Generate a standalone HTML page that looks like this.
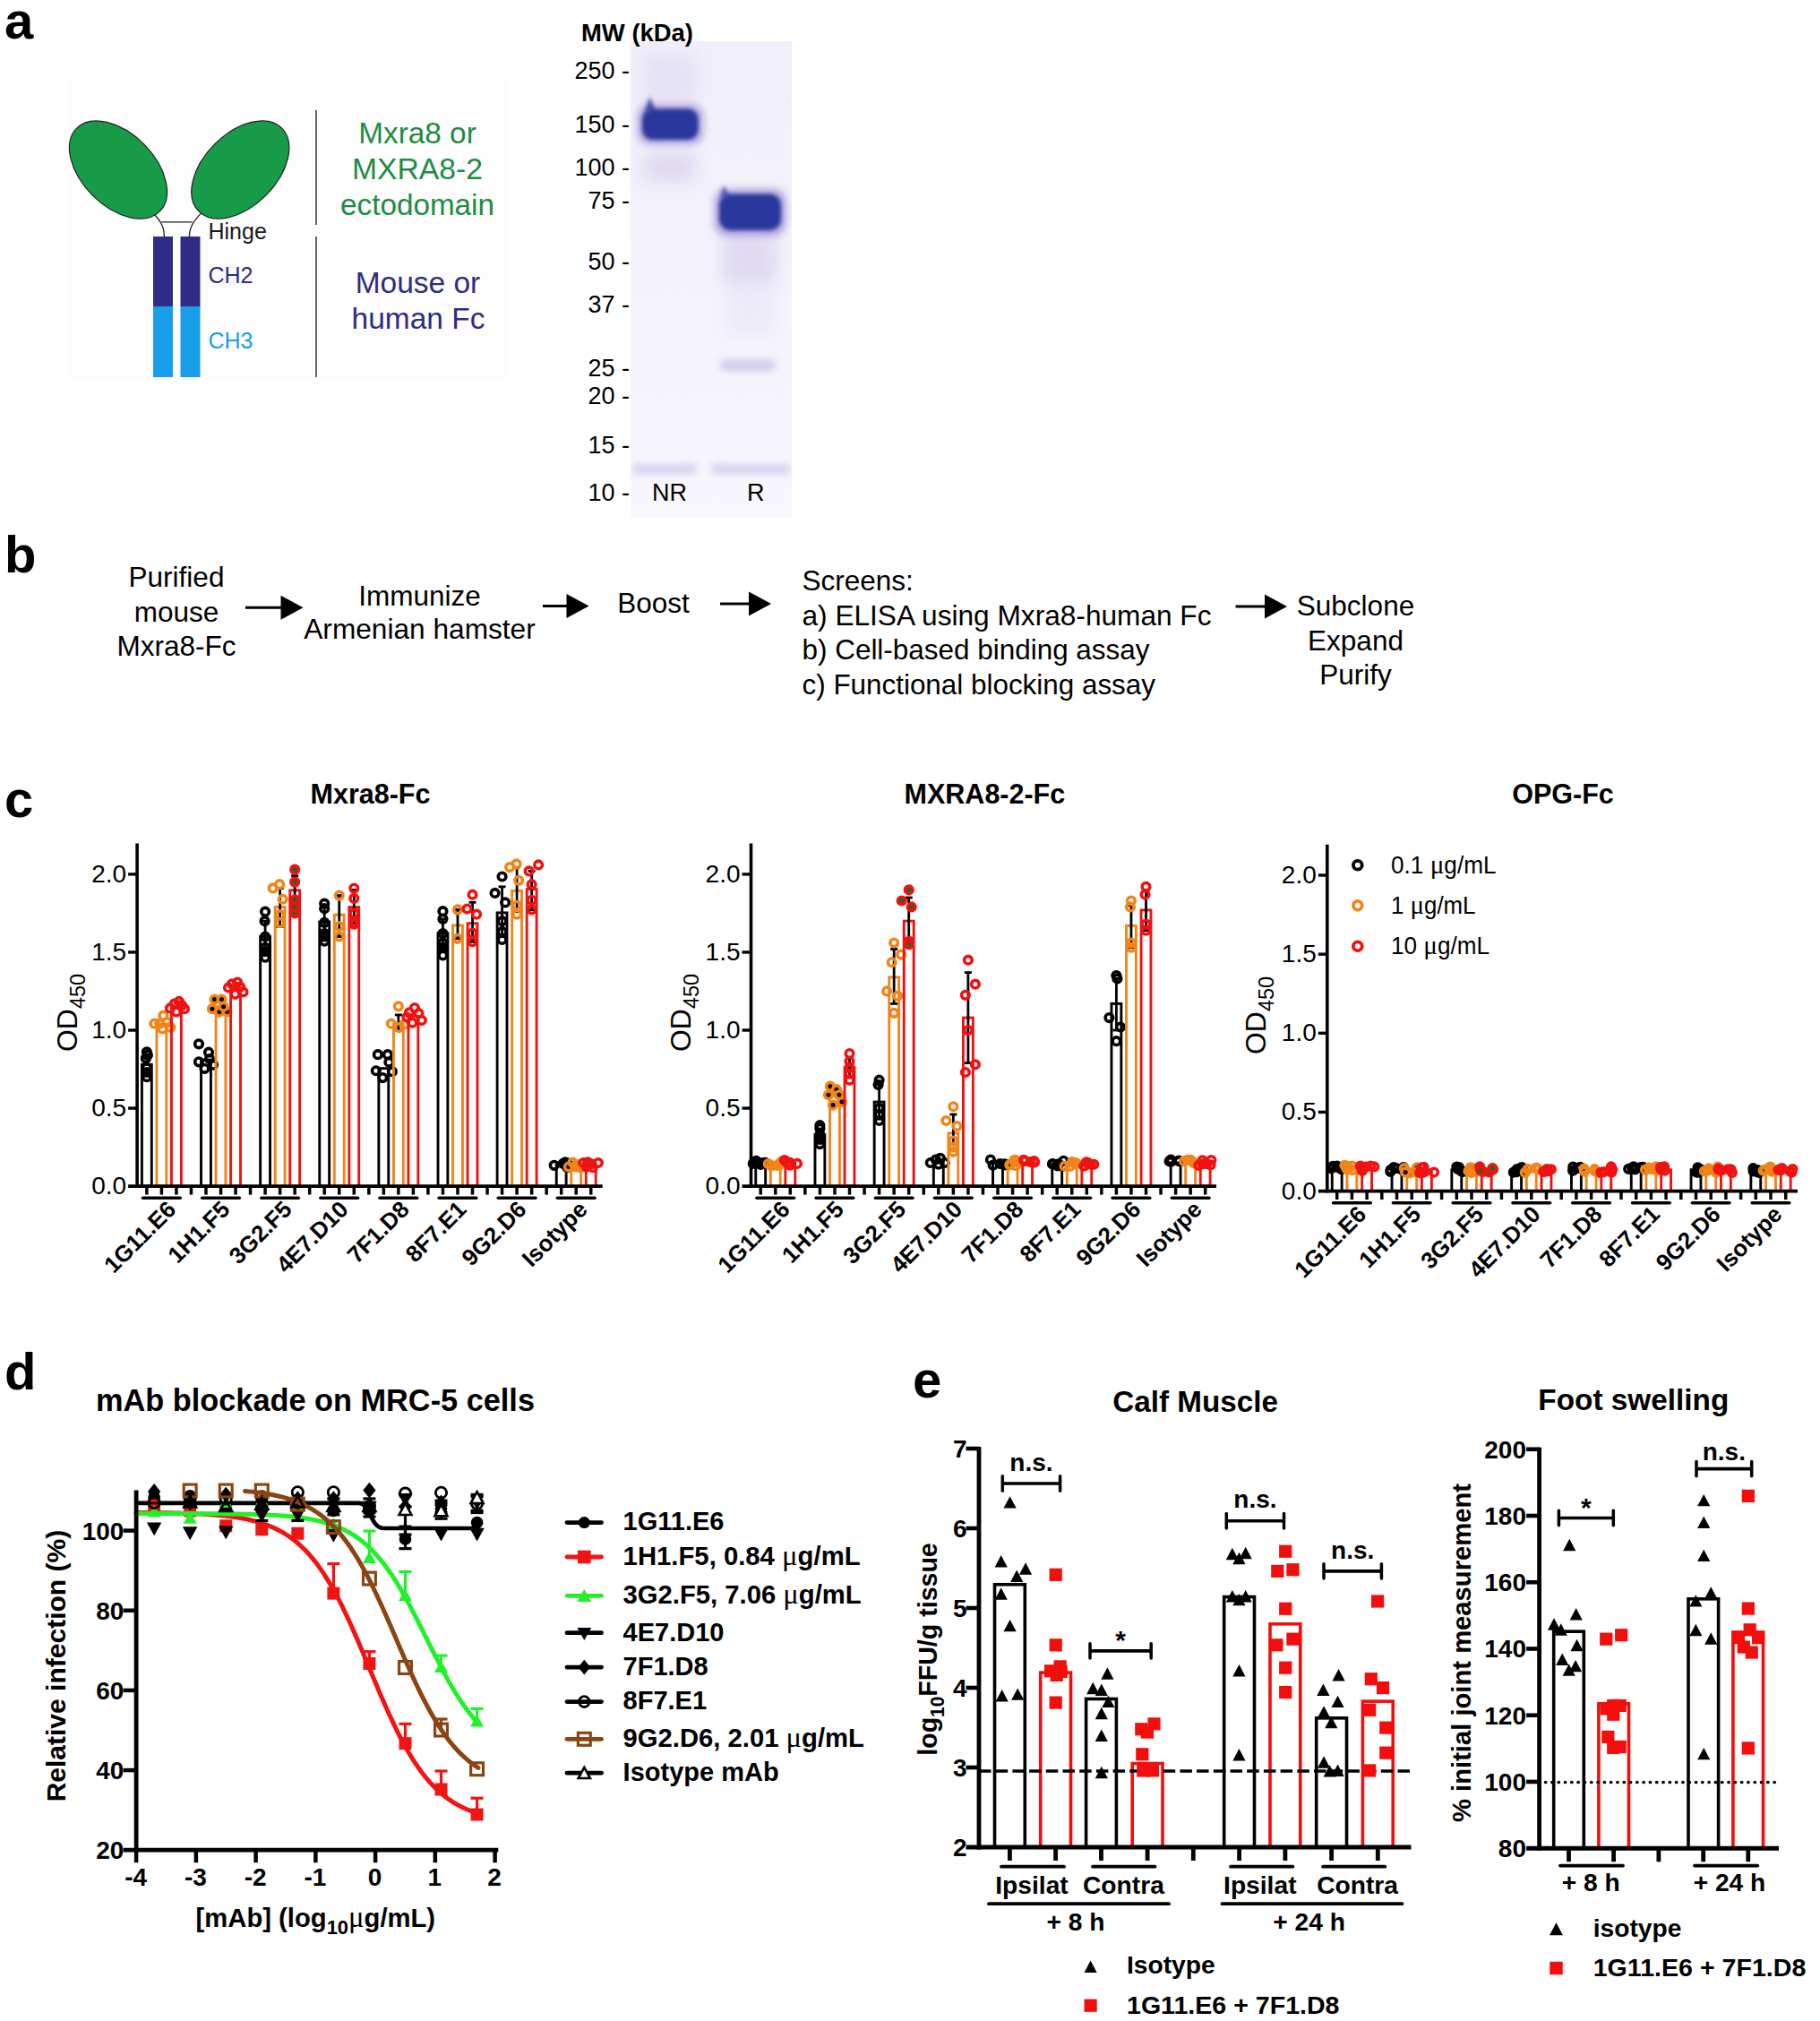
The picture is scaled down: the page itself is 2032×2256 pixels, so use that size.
<!DOCTYPE html>
<html lang="en">
<head>
<meta charset="utf-8">
<title>Mxra8-Fc and anti-Mxra8 mAbs figure</title>
<style>
html,body{margin:0;padding:0;background:#fff;}
body{width:2032px;height:2256px;overflow:hidden;}
svg{display:block;font-family:"Liberation Sans","DejaVu Sans",sans-serif;}
</style>
</head>
<body>
<svg width="2032" height="2256" viewBox="0 0 2032 2256">
<defs>
<filter id="b2" x="-30%" y="-60%" width="160%" height="220%"><feGaussianBlur stdDeviation="2.2"/></filter>
<filter id="b4" x="-30%" y="-80%" width="160%" height="260%"><feGaussianBlur stdDeviation="4.5"/></filter>
<filter id="b9" x="-40%" y="-100%" width="180%" height="300%"><feGaussianBlur stdDeviation="9"/></filter>
<linearGradient id="gelbg" x1="0" y1="0" x2="0" y2="1"><stop offset="0" stop-color="#f1effa"/><stop offset="0.5" stop-color="#f4f3fb"/><stop offset="1" stop-color="#f8f7fd"/></linearGradient>
<clipPath id="gelclip"><rect x="704" y="46" width="180" height="532"/></clipPath>
</defs>
<text x="5" y="43" font-size="58" font-weight="bold">a</text>
<rect x="78" y="87" width="489" height="335.5" fill="#fdfdfd"/>
<path d="M171.5 238.5 C178 245 183.4 252 183.4 264 M225 237.5 C218 245 211.4 252 211.4 264 M180.3 247.9 L214.6 247.9" fill="none" stroke="#222" stroke-width="1.3"/>
<ellipse cx="0" cy="0" rx="65.6" ry="40.5" transform="translate(132,189.5) rotate(45)" fill="#179b48" stroke="#222" stroke-width="1.2"/>
<ellipse cx="0" cy="0" rx="65.6" ry="40.5" transform="translate(268.3,189.5) rotate(-45)" fill="#179b48" stroke="#222" stroke-width="1.2"/>
<rect x="171" y="264" width="22" height="78.5" fill="#2e2c85"/>
<rect x="171" y="342" width="22" height="79" fill="#189de8"/>
<rect x="201.5" y="264" width="22" height="78.5" fill="#2e2c85"/>
<rect x="201.5" y="342" width="22" height="79" fill="#189de8"/>
<text x="232.5" y="266.5" font-size="25" fill="#1a1a1a">Hinge</text>
<text x="232.5" y="315.5" font-size="25" fill="#2e2c85">CH2</text>
<text x="232.5" y="388.5" font-size="25" fill="#189de8">CH3</text>
<line x1="353" y1="123" x2="353" y2="251" stroke-width="1.4" stroke="#222"/>
<line x1="353" y1="264" x2="353" y2="421" stroke-width="1.4" stroke="#222"/>
<text x="466" y="159.5" font-size="32.3" text-anchor="middle" fill="#1f8c43" textLength="131.5" lengthAdjust="spacingAndGlyphs">Mxra8 or</text>
<text x="466" y="199.5" font-size="32.3" text-anchor="middle" fill="#1f8c43" textLength="146" lengthAdjust="spacingAndGlyphs">MXRA8-2</text>
<text x="466" y="239.5" font-size="32.3" text-anchor="middle" fill="#1f8c43" textLength="172" lengthAdjust="spacingAndGlyphs">ectodomain</text>
<text x="466.5" y="326.5" font-size="32.3" text-anchor="middle" fill="#2e2c85" textLength="139.5" lengthAdjust="spacingAndGlyphs">Mouse or</text>
<text x="467" y="366.5" font-size="32.3" text-anchor="middle" fill="#2e2c85" textLength="149" lengthAdjust="spacingAndGlyphs">human Fc</text>
<rect x="704" y="46" width="180" height="532" fill="url(#gelbg)"/>
<g clip-path="url(#gelclip)">
<rect x="716" y="60" width="62" height="60" fill="#b9b4e6" opacity="0.22" filter="url(#b9)"/>
<rect x="719" y="170" width="58" height="34" fill="#b5a6de" opacity="0.3" filter="url(#b9)"/>
<rect x="806" y="258" width="62" height="56" fill="#b5a6de" opacity="0.3" filter="url(#b9)"/>
<rect x="810" y="305" width="54" height="70" fill="#b9b4e6" opacity="0.13" filter="url(#b9)"/>
<rect x="712" y="117" width="73" height="44" rx="13" fill="#7460c2" opacity="0.55" filter="url(#b4)"/>
<polygon points="720,124 725.5,108 732,124" fill="#2b379d" opacity="0.85" filter="url(#b2)"/>
<rect x="717" y="121.5" width="62.5" height="34.5" rx="12" fill="#2b379d" filter="url(#b2)"/>
<rect x="797.5" y="211" width="80" height="52" rx="14" fill="#7460c2" opacity="0.55" filter="url(#b4)"/>
<polygon points="804,220 808,207 815,220" fill="#2b379d" opacity="0.7" filter="url(#b2)"/>
<rect x="803" y="216.5" width="69" height="40.5" rx="13" fill="#2b379d" filter="url(#b2)"/>
<rect x="804" y="402" width="62" height="12" rx="5" fill="#a79bd9" opacity="0.5" filter="url(#b4)"/>
<rect x="706" y="518" width="72" height="11" rx="4" fill="#b3a9df" opacity="0.5" filter="url(#b4)"/>
<rect x="794" y="518" width="88" height="11" rx="4" fill="#b3a9df" opacity="0.5" filter="url(#b4)"/>
</g>
<text x="649" y="46" font-size="27" font-weight="bold" textLength="125" lengthAdjust="spacingAndGlyphs">MW (kDa)</text>
<text x="703" y="88" font-size="27" text-anchor="end">250 -</text>
<text x="703" y="148" font-size="27" text-anchor="end">150 -</text>
<text x="703" y="196" font-size="27" text-anchor="end">100 -</text>
<text x="703" y="232.5" font-size="27" text-anchor="end">75 -</text>
<text x="703" y="301" font-size="27" text-anchor="end">50 -</text>
<text x="703" y="349" font-size="27" text-anchor="end">37 -</text>
<text x="703" y="420" font-size="27" text-anchor="end">25 -</text>
<text x="703" y="450.5" font-size="27" text-anchor="end">20 -</text>
<text x="703" y="506" font-size="27" text-anchor="end">15 -</text>
<text x="703" y="559" font-size="27" text-anchor="end">10 -</text>
<text x="728" y="559" font-size="27">NR</text>
<text x="834" y="559" font-size="27">R</text>
<text x="5" y="639" font-size="58" font-weight="bold">b</text>
<text x="197" y="655" font-size="31.5" text-anchor="middle">Purified</text>
<text x="197" y="694" font-size="31.5" text-anchor="middle">mouse</text>
<text x="197" y="732" font-size="31.5" text-anchor="middle">Mxra8-Fc</text>
<text x="468.5" y="675.5" font-size="31.5" text-anchor="middle">Immunize</text>
<text x="468.5" y="713" font-size="31.5" text-anchor="middle" textLength="258.5" lengthAdjust="spacingAndGlyphs">Armenian hamster</text>
<text x="729.5" y="684" font-size="31.5" text-anchor="middle">Boost</text>
<text x="895.5" y="658.5" font-size="31.5">Screens:</text>
<text x="895.5" y="697.5" font-size="31.5" textLength="457" lengthAdjust="spacingAndGlyphs">a) ELISA using Mxra8-human Fc</text>
<text x="895.5" y="735.5" font-size="31.5" textLength="388" lengthAdjust="spacingAndGlyphs">b) Cell-based binding assay</text>
<text x="895.5" y="774.5" font-size="31.5" textLength="394.5" lengthAdjust="spacingAndGlyphs">c) Functional blocking assay</text>
<text x="1513.5" y="686.5" font-size="31.5" text-anchor="middle">Subclone</text>
<text x="1513.5" y="725.5" font-size="31.5" text-anchor="middle">Expand</text>
<text x="1513.5" y="763.5" font-size="31.5" text-anchor="middle">Purify</text>
<line x1="274" y1="678.3" x2="316.5" y2="678.3" stroke-width="3" stroke="#000"/>
<polygon points="313.5,664.8 338.5,678.3 313.5,691.8" fill="#000"/>
<line x1="606" y1="676.5" x2="635.5" y2="676.5" stroke-width="3" stroke="#000"/>
<polygon points="632.5,663 657.5,676.5 632.5,690" fill="#000"/>
<line x1="804" y1="674" x2="839" y2="674" stroke-width="3" stroke="#000"/>
<polygon points="836,660.5 861,674 836,687.5" fill="#000"/>
<line x1="1379.5" y1="677" x2="1415" y2="677" stroke-width="3" stroke="#000"/>
<polygon points="1412,663.5 1437,677 1412,690.5" fill="#000"/>
<text x="5" y="912" font-size="58" font-weight="bold">c</text>
<rect x="158.4" y="1188.3" width="10.9" height="135.8" fill="none" stroke="#000" stroke-width="2.9"/>
<circle cx="163.85" cy="1174.37" r="4.3" fill="none" stroke="#000" stroke-width="3.6"/>
<circle cx="164.85" cy="1177.86" r="4.3" fill="none" stroke="#000" stroke-width="3.6"/>
<circle cx="162.85" cy="1181.34" r="4.3" fill="none" stroke="#000" stroke-width="3.6"/>
<circle cx="163.85" cy="1191.78" r="4.3" fill="none" stroke="#000" stroke-width="3.6"/>
<circle cx="163.85" cy="1197.01" r="4.3" fill="none" stroke="#000" stroke-width="3.6"/>
<circle cx="163.85" cy="1202.23" r="4.3" fill="none" stroke="#000" stroke-width="3.6"/>
<rect x="174.93" y="1143.04" width="10.9" height="181.06" fill="none" stroke="#f0861a" stroke-width="2.9"/>
<circle cx="172.38" cy="1142.69" r="4.3" fill="none" stroke="#f0861a" stroke-width="3.6"/>
<circle cx="178.38" cy="1142.69" r="4.3" fill="none" stroke="#f0861a" stroke-width="3.6"/>
<circle cx="182.38" cy="1133.63" r="4.3" fill="none" stroke="#f0861a" stroke-width="3.6"/>
<circle cx="186.38" cy="1141.12" r="4.3" fill="none" stroke="#f0861a" stroke-width="3.6"/>
<circle cx="181.38" cy="1148.43" r="4.3" fill="none" stroke="#f0861a" stroke-width="3.6"/>
<circle cx="190.38" cy="1146.87" r="4.3" fill="none" stroke="#f0861a" stroke-width="3.6"/>
<rect x="191.46" y="1123.88" width="10.9" height="200.21" fill="none" stroke="#f01212" stroke-width="2.9"/>
<circle cx="189.91" cy="1125.45" r="4.3" fill="none" stroke="#f01212" stroke-width="3.6"/>
<circle cx="194.91" cy="1120.4" r="4.3" fill="none" stroke="#f01212" stroke-width="3.6"/>
<circle cx="199.91" cy="1117.97" r="4.3" fill="none" stroke="#f01212" stroke-width="3.6"/>
<circle cx="202.91" cy="1122.14" r="4.3" fill="none" stroke="#f01212" stroke-width="3.6"/>
<circle cx="205.91" cy="1126.15" r="4.3" fill="none" stroke="#f01212" stroke-width="3.6"/>
<circle cx="196.91" cy="1129.46" r="4.3" fill="none" stroke="#f01212" stroke-width="3.6"/>
<rect x="224.52" y="1183.08" width="10.9" height="141.02" fill="none" stroke="#000" stroke-width="2.9"/>
<circle cx="221.97" cy="1165.32" r="4.3" fill="none" stroke="#000" stroke-width="3.6"/>
<circle cx="232.97" cy="1174.72" r="4.3" fill="none" stroke="#000" stroke-width="3.6"/>
<circle cx="233.97" cy="1182.03" r="4.3" fill="none" stroke="#000" stroke-width="3.6"/>
<circle cx="221.97" cy="1185.34" r="4.3" fill="none" stroke="#000" stroke-width="3.6"/>
<circle cx="237.97" cy="1188.65" r="4.3" fill="none" stroke="#000" stroke-width="3.6"/>
<circle cx="228.47" cy="1192.83" r="4.3" fill="none" stroke="#000" stroke-width="3.6"/>
<rect x="241.05" y="1123.88" width="10.9" height="200.21" fill="none" stroke="#f0861a" stroke-width="2.9"/>
<circle cx="239.5" cy="1115.53" r="4.3" fill="#000" stroke="#f0861a" stroke-width="3.6"/>
<circle cx="247.5" cy="1115.53" r="4.3" fill="#000" stroke="#f0861a" stroke-width="3.6"/>
<circle cx="237" cy="1126.15" r="4.3" fill="#000" stroke="#f0861a" stroke-width="3.6"/>
<circle cx="245" cy="1129.46" r="4.3" fill="#000" stroke="#f0861a" stroke-width="3.6"/>
<circle cx="253.5" cy="1129.46" r="4.3" fill="#000" stroke="#f0861a" stroke-width="3.6"/>
<circle cx="249.5" cy="1123.71" r="4.3" fill="#000" stroke="#f0861a" stroke-width="3.6"/>
<rect x="257.58" y="1102.99" width="10.9" height="221.11" fill="none" stroke="#f01212" stroke-width="2.9"/>
<circle cx="255.03" cy="1102.47" r="4.3" fill="none" stroke="#f01212" stroke-width="3.6"/>
<circle cx="259.03" cy="1098.29" r="4.3" fill="none" stroke="#f01212" stroke-width="3.6"/>
<circle cx="265.03" cy="1096.55" r="4.3" fill="none" stroke="#f01212" stroke-width="3.6"/>
<circle cx="268.03" cy="1101.6" r="4.3" fill="none" stroke="#f01212" stroke-width="3.6"/>
<circle cx="271.53" cy="1107.35" r="4.3" fill="none" stroke="#f01212" stroke-width="3.6"/>
<circle cx="262.53" cy="1109.78" r="4.3" fill="none" stroke="#f01212" stroke-width="3.6"/>
<rect x="290.64" y="1045.54" width="10.9" height="278.56" fill="none" stroke="#000" stroke-width="2.9"/>
<line x1="296.09" y1="1062.95" x2="296.09" y2="1028.13" stroke-width="2.8" stroke="#000"/>
<line x1="292.09" y1="1028.13" x2="300.09" y2="1028.13" stroke-width="2.8" stroke="#000"/>
<line x1="292.09" y1="1062.95" x2="300.09" y2="1062.95" stroke-width="2.8" stroke="#000"/>
<circle cx="296.09" cy="1017.68" r="4.3" fill="none" stroke="#000" stroke-width="3.6"/>
<circle cx="295.59" cy="1028.13" r="4.3" fill="none" stroke="#000" stroke-width="3.6"/>
<circle cx="296.09" cy="1045.54" r="4.3" fill="none" stroke="#000" stroke-width="3.6"/>
<circle cx="296.09" cy="1057.73" r="4.3" fill="none" stroke="#000" stroke-width="3.6"/>
<circle cx="296.09" cy="1062.08" r="4.3" fill="none" stroke="#000" stroke-width="3.6"/>
<circle cx="296.09" cy="1068.7" r="4.3" fill="none" stroke="#000" stroke-width="3.6"/>
<rect x="307.17" y="1012.46" width="10.9" height="311.64" fill="none" stroke="#f0861a" stroke-width="2.9"/>
<line x1="312.62" y1="1034.22" x2="312.62" y2="991.57" stroke-width="2.8" stroke="#000"/>
<line x1="308.62" y1="991.57" x2="316.62" y2="991.57" stroke-width="2.8" stroke="#000"/>
<line x1="308.62" y1="1034.22" x2="316.62" y2="1034.22" stroke-width="2.8" stroke="#000"/>
<circle cx="304.62" cy="991.39" r="4.3" fill="none" stroke="#f0861a" stroke-width="3.6"/>
<circle cx="312.12" cy="987.22" r="4.3" fill="none" stroke="#f0861a" stroke-width="3.6"/>
<circle cx="315.62" cy="1003.76" r="4.3" fill="none" stroke="#f0861a" stroke-width="3.6"/>
<circle cx="312.62" cy="1030.05" r="4.3" fill="none" stroke="#f0861a" stroke-width="3.6"/>
<circle cx="312.62" cy="1021.17" r="4.3" fill="none" stroke="#f0861a" stroke-width="3.6"/>
<rect x="323.7" y="993.83" width="10.9" height="330.27" fill="none" stroke="#f01212" stroke-width="2.9"/>
<line x1="329.15" y1="1010.72" x2="329.15" y2="977.64" stroke-width="2.8" stroke="#000"/>
<line x1="325.15" y1="977.64" x2="333.15" y2="977.64" stroke-width="2.8" stroke="#000"/>
<line x1="325.15" y1="1010.72" x2="333.15" y2="1010.72" stroke-width="2.8" stroke="#000"/>
<circle cx="329.15" cy="970.68" r="4.3" fill="#1c6b1c" stroke="#f01212" stroke-width="3.6"/>
<circle cx="329.15" cy="984.6" r="4.3" fill="#1c6b1c" stroke="#f01212" stroke-width="3.6"/>
<circle cx="329.15" cy="1004.45" r="4.3" fill="#1c6b1c" stroke="#f01212" stroke-width="3.6"/>
<circle cx="329.15" cy="1019.42" r="4.3" fill="#1c6b1c" stroke="#f01212" stroke-width="3.6"/>
<circle cx="329.15" cy="1012.46" r="4.3" fill="#1c6b1c" stroke="#f01212" stroke-width="3.6"/>
<rect x="356.76" y="1029.17" width="10.9" height="294.93" fill="none" stroke="#000" stroke-width="2.9"/>
<line x1="362.21" y1="1045.54" x2="362.21" y2="1012.46" stroke-width="2.8" stroke="#000"/>
<line x1="358.21" y1="1012.46" x2="366.21" y2="1012.46" stroke-width="2.8" stroke="#000"/>
<line x1="358.21" y1="1045.54" x2="366.21" y2="1045.54" stroke-width="2.8" stroke="#000"/>
<circle cx="362.21" cy="1008.63" r="4.3" fill="none" stroke="#000" stroke-width="3.6"/>
<circle cx="362.21" cy="1014.2" r="4.3" fill="none" stroke="#000" stroke-width="3.6"/>
<circle cx="362.21" cy="1029.87" r="4.3" fill="none" stroke="#000" stroke-width="3.6"/>
<circle cx="362.21" cy="1042.06" r="4.3" fill="none" stroke="#000" stroke-width="3.6"/>
<circle cx="362.21" cy="1050.76" r="4.3" fill="none" stroke="#000" stroke-width="3.6"/>
<circle cx="362.21" cy="1045.54" r="4.3" fill="none" stroke="#000" stroke-width="3.6"/>
<rect x="373.29" y="1021.17" width="10.9" height="302.93" fill="none" stroke="#f0861a" stroke-width="2.9"/>
<line x1="378.74" y1="1045.54" x2="378.74" y2="999.58" stroke-width="2.8" stroke="#000"/>
<line x1="374.74" y1="999.58" x2="382.74" y2="999.58" stroke-width="2.8" stroke="#000"/>
<line x1="374.74" y1="1045.54" x2="382.74" y2="1045.54" stroke-width="2.8" stroke="#000"/>
<circle cx="378.74" cy="999.58" r="4.3" fill="none" stroke="#f0861a" stroke-width="3.6"/>
<circle cx="378.74" cy="1034.05" r="4.3" fill="none" stroke="#f0861a" stroke-width="3.6"/>
<circle cx="378.74" cy="1045.54" r="4.3" fill="none" stroke="#f0861a" stroke-width="3.6"/>
<rect x="389.82" y="1012.64" width="10.9" height="311.46" fill="none" stroke="#f01212" stroke-width="2.9"/>
<line x1="395.27" y1="1031.61" x2="395.27" y2="993.31" stroke-width="2.8" stroke="#000"/>
<line x1="391.27" y1="993.31" x2="399.27" y2="993.31" stroke-width="2.8" stroke="#000"/>
<line x1="391.27" y1="1031.61" x2="399.27" y2="1031.61" stroke-width="2.8" stroke="#000"/>
<circle cx="395.27" cy="991.57" r="4.3" fill="none" stroke="#f01212" stroke-width="3.6"/>
<circle cx="395.27" cy="1002.89" r="4.3" fill="none" stroke="#f01212" stroke-width="3.6"/>
<circle cx="395.27" cy="1019.42" r="4.3" fill="none" stroke="#f01212" stroke-width="3.6"/>
<circle cx="395.27" cy="1031.61" r="4.3" fill="none" stroke="#f01212" stroke-width="3.6"/>
<circle cx="395.27" cy="1028.13" r="4.3" fill="none" stroke="#f01212" stroke-width="3.6"/>
<rect x="422.88" y="1192.65" width="10.9" height="131.45" fill="none" stroke="#000" stroke-width="2.9"/>
<circle cx="421.83" cy="1177.16" r="4.3" fill="none" stroke="#000" stroke-width="3.6"/>
<circle cx="432.83" cy="1177.16" r="4.3" fill="none" stroke="#000" stroke-width="3.6"/>
<circle cx="434.33" cy="1185.69" r="4.3" fill="none" stroke="#000" stroke-width="3.6"/>
<circle cx="419.83" cy="1195.27" r="4.3" fill="none" stroke="#000" stroke-width="3.6"/>
<circle cx="437.83" cy="1196.14" r="4.3" fill="none" stroke="#000" stroke-width="3.6"/>
<circle cx="427.33" cy="1203.1" r="4.3" fill="none" stroke="#000" stroke-width="3.6"/>
<rect x="439.41" y="1143.04" width="10.9" height="181.06" fill="none" stroke="#f0861a" stroke-width="2.9"/>
<line x1="444.86" y1="1150" x2="444.86" y2="1132.94" stroke-width="2.8" stroke="#000"/>
<line x1="440.86" y1="1132.94" x2="448.86" y2="1132.94" stroke-width="2.8" stroke="#000"/>
<line x1="440.86" y1="1150" x2="448.86" y2="1150" stroke-width="2.8" stroke="#000"/>
<circle cx="444.86" cy="1123.36" r="4.3" fill="none" stroke="#f0861a" stroke-width="3.6"/>
<circle cx="436.86" cy="1142.69" r="4.3" fill="none" stroke="#f0861a" stroke-width="3.6"/>
<circle cx="445.36" cy="1147.04" r="4.3" fill="none" stroke="#f0861a" stroke-width="3.6"/>
<circle cx="451.36" cy="1143.56" r="4.3" fill="none" stroke="#f0861a" stroke-width="3.6"/>
<rect x="455.94" y="1134.33" width="10.9" height="189.77" fill="none" stroke="#f01212" stroke-width="2.9"/>
<circle cx="456.89" cy="1130.33" r="4.3" fill="none" stroke="#f01212" stroke-width="3.6"/>
<circle cx="462.89" cy="1125.1" r="4.3" fill="none" stroke="#f01212" stroke-width="3.6"/>
<circle cx="467.39" cy="1131.2" r="4.3" fill="none" stroke="#f01212" stroke-width="3.6"/>
<circle cx="470.89" cy="1139.03" r="4.3" fill="none" stroke="#f01212" stroke-width="3.6"/>
<circle cx="460.39" cy="1141.64" r="4.3" fill="none" stroke="#f01212" stroke-width="3.6"/>
<circle cx="454.39" cy="1135.55" r="4.3" fill="none" stroke="#f01212" stroke-width="3.6"/>
<rect x="489" y="1041.71" width="10.9" height="282.39" fill="none" stroke="#000" stroke-width="2.9"/>
<line x1="494.45" y1="1059.47" x2="494.45" y2="1025.87" stroke-width="2.8" stroke="#000"/>
<line x1="490.45" y1="1025.87" x2="498.45" y2="1025.87" stroke-width="2.8" stroke="#000"/>
<line x1="490.45" y1="1059.47" x2="498.45" y2="1059.47" stroke-width="2.8" stroke="#000"/>
<circle cx="494.45" cy="1017.16" r="4.3" fill="none" stroke="#000" stroke-width="3.6"/>
<circle cx="494.45" cy="1025.87" r="4.3" fill="none" stroke="#000" stroke-width="3.6"/>
<circle cx="494.45" cy="1042.06" r="4.3" fill="none" stroke="#000" stroke-width="3.6"/>
<circle cx="494.45" cy="1057.73" r="4.3" fill="none" stroke="#000" stroke-width="3.6"/>
<circle cx="494.45" cy="1066.43" r="4.3" fill="none" stroke="#000" stroke-width="3.6"/>
<circle cx="494.45" cy="1052.5" r="4.3" fill="none" stroke="#000" stroke-width="3.6"/>
<rect x="505.53" y="1033" width="10.9" height="291.1" fill="none" stroke="#f0861a" stroke-width="2.9"/>
<line x1="510.98" y1="1047.8" x2="510.98" y2="1015.42" stroke-width="2.8" stroke="#000"/>
<line x1="506.98" y1="1015.42" x2="514.98" y2="1015.42" stroke-width="2.8" stroke="#000"/>
<line x1="506.98" y1="1047.8" x2="514.98" y2="1047.8" stroke-width="2.8" stroke="#000"/>
<circle cx="510.98" cy="1015.42" r="4.3" fill="none" stroke="#f0861a" stroke-width="3.6"/>
<circle cx="510.98" cy="1047.8" r="4.3" fill="none" stroke="#f0861a" stroke-width="3.6"/>
<rect x="522.06" y="1030.74" width="10.9" height="293.36" fill="none" stroke="#f01212" stroke-width="2.9"/>
<line x1="527.51" y1="1051.29" x2="527.51" y2="1007.24" stroke-width="2.8" stroke="#000"/>
<line x1="523.51" y1="1007.24" x2="531.51" y2="1007.24" stroke-width="2.8" stroke="#000"/>
<line x1="523.51" y1="1051.29" x2="531.51" y2="1051.29" stroke-width="2.8" stroke="#000"/>
<circle cx="527.51" cy="998.71" r="4.3" fill="none" stroke="#f01212" stroke-width="3.6"/>
<circle cx="521.51" cy="1014.55" r="4.3" fill="none" stroke="#f01212" stroke-width="3.6"/>
<circle cx="532.01" cy="1020.64" r="4.3" fill="none" stroke="#f01212" stroke-width="3.6"/>
<circle cx="527.51" cy="1041.71" r="4.3" fill="none" stroke="#f01212" stroke-width="3.6"/>
<circle cx="527.51" cy="1051.29" r="4.3" fill="none" stroke="#f01212" stroke-width="3.6"/>
<rect x="555.12" y="1018.9" width="10.9" height="305.2" fill="none" stroke="#000" stroke-width="2.9"/>
<line x1="560.57" y1="1045.54" x2="560.57" y2="989.83" stroke-width="2.8" stroke="#000"/>
<line x1="556.57" y1="989.83" x2="564.57" y2="989.83" stroke-width="2.8" stroke="#000"/>
<line x1="556.57" y1="1045.54" x2="564.57" y2="1045.54" stroke-width="2.8" stroke="#000"/>
<circle cx="560.57" cy="978.51" r="4.3" fill="none" stroke="#000" stroke-width="3.6"/>
<circle cx="552.57" cy="996.97" r="4.3" fill="none" stroke="#000" stroke-width="3.6"/>
<circle cx="564.07" cy="1007.41" r="4.3" fill="none" stroke="#000" stroke-width="3.6"/>
<circle cx="560.57" cy="1039.97" r="4.3" fill="none" stroke="#000" stroke-width="3.6"/>
<circle cx="560.57" cy="1049.02" r="4.3" fill="none" stroke="#000" stroke-width="3.6"/>
<circle cx="560.57" cy="1028.13" r="4.3" fill="none" stroke="#000" stroke-width="3.6"/>
<rect x="571.65" y="994.35" width="10.9" height="329.75" fill="none" stroke="#f0861a" stroke-width="2.9"/>
<line x1="577.1" y1="1017.68" x2="577.1" y2="968.07" stroke-width="2.8" stroke="#000"/>
<line x1="573.1" y1="968.07" x2="581.1" y2="968.07" stroke-width="2.8" stroke="#000"/>
<line x1="573.1" y1="1017.68" x2="581.1" y2="1017.68" stroke-width="2.8" stroke="#000"/>
<circle cx="569.1" cy="968.07" r="4.3" fill="none" stroke="#f0861a" stroke-width="3.6"/>
<circle cx="576.6" cy="964.41" r="4.3" fill="none" stroke="#f0861a" stroke-width="3.6"/>
<circle cx="579.1" cy="982.86" r="4.3" fill="none" stroke="#f0861a" stroke-width="3.6"/>
<circle cx="577.1" cy="1010.72" r="4.3" fill="none" stroke="#f0861a" stroke-width="3.6"/>
<circle cx="577.1" cy="1020.64" r="4.3" fill="none" stroke="#f0861a" stroke-width="3.6"/>
<rect x="588.18" y="992.61" width="10.9" height="331.49" fill="none" stroke="#f01212" stroke-width="2.9"/>
<line x1="593.63" y1="1015.94" x2="593.63" y2="972.42" stroke-width="2.8" stroke="#000"/>
<line x1="589.63" y1="972.42" x2="597.63" y2="972.42" stroke-width="2.8" stroke="#000"/>
<line x1="589.63" y1="1015.94" x2="597.63" y2="1015.94" stroke-width="2.8" stroke="#000"/>
<circle cx="601.13" cy="965.45" r="4.3" fill="none" stroke="#f01212" stroke-width="3.6"/>
<circle cx="590.63" cy="972.42" r="4.3" fill="none" stroke="#f01212" stroke-width="3.6"/>
<circle cx="593.63" cy="987.22" r="4.3" fill="none" stroke="#f01212" stroke-width="3.6"/>
<circle cx="593.63" cy="1004.8" r="4.3" fill="none" stroke="#f01212" stroke-width="3.6"/>
<circle cx="593.63" cy="1015.42" r="4.3" fill="none" stroke="#f01212" stroke-width="3.6"/>
<rect x="621.24" y="1300.6" width="10.9" height="23.5" fill="none" stroke="#000" stroke-width="2.9"/>
<circle cx="628.78" cy="1298.91" r="4.3" fill="none" stroke="#000" stroke-width="3.6"/>
<circle cx="631.71" cy="1297.52" r="4.3" fill="none" stroke="#000" stroke-width="3.6"/>
<circle cx="630.77" cy="1297.66" r="4.3" fill="none" stroke="#000" stroke-width="3.6"/>
<circle cx="618.68" cy="1300.84" r="4.3" fill="none" stroke="#000" stroke-width="3.6"/>
<circle cx="634.23" cy="1299.56" r="4.3" fill="none" stroke="#000" stroke-width="3.6"/>
<circle cx="633.51" cy="1303.29" r="4.3" fill="none" stroke="#000" stroke-width="3.6"/>
<rect x="637.77" y="1300.6" width="10.9" height="23.5" fill="none" stroke="#f0861a" stroke-width="2.9"/>
<circle cx="642.69" cy="1302.36" r="4.3" fill="none" stroke="#f0861a" stroke-width="3.6"/>
<circle cx="643.96" cy="1300.08" r="4.3" fill="none" stroke="#f0861a" stroke-width="3.6"/>
<circle cx="634.94" cy="1302.57" r="4.3" fill="none" stroke="#f0861a" stroke-width="3.6"/>
<circle cx="639.47" cy="1297.7" r="4.3" fill="none" stroke="#f0861a" stroke-width="3.6"/>
<circle cx="647.74" cy="1302.97" r="4.3" fill="none" stroke="#f0861a" stroke-width="3.6"/>
<circle cx="648.27" cy="1303.11" r="4.3" fill="none" stroke="#f0861a" stroke-width="3.6"/>
<rect x="654.3" y="1300.6" width="10.9" height="23.5" fill="none" stroke="#f01212" stroke-width="2.9"/>
<circle cx="661.75" cy="1303.2" r="4.3" fill="none" stroke="#f01212" stroke-width="3.6"/>
<circle cx="651.28" cy="1298.01" r="4.3" fill="none" stroke="#f01212" stroke-width="3.6"/>
<circle cx="654.81" cy="1302.58" r="4.3" fill="none" stroke="#f01212" stroke-width="3.6"/>
<circle cx="667.95" cy="1298" r="4.3" fill="none" stroke="#f01212" stroke-width="3.6"/>
<circle cx="656.17" cy="1297.38" r="4.3" fill="none" stroke="#f01212" stroke-width="3.6"/>
<circle cx="660.42" cy="1299.36" r="4.3" fill="none" stroke="#f01212" stroke-width="3.6"/>
<line x1="153.1" y1="941.5" x2="153.1" y2="1325.9" stroke-width="3.6" stroke="#000"/>
<line x1="143.1" y1="1324.1" x2="672.7" y2="1324.1" stroke-width="3.6" stroke="#000"/>
<text x="141.2" y="1333.1" font-size="28" text-anchor="end">0.0</text>
<line x1="143.1" y1="1237.05" x2="153.1" y2="1237.05" stroke-width="3.4" stroke="#000"/>
<text x="141.2" y="1246.05" font-size="28" text-anchor="end">0.5</text>
<line x1="143.1" y1="1150" x2="153.1" y2="1150" stroke-width="3.4" stroke="#000"/>
<text x="141.2" y="1159" font-size="28" text-anchor="end">1.0</text>
<line x1="143.1" y1="1062.95" x2="153.1" y2="1062.95" stroke-width="3.4" stroke="#000"/>
<text x="141.2" y="1071.95" font-size="28" text-anchor="end">1.5</text>
<line x1="143.1" y1="975.9" x2="153.1" y2="975.9" stroke-width="3.4" stroke="#000"/>
<text x="141.2" y="984.9" font-size="28" text-anchor="end">2.0</text>
<line x1="163.85" y1="1324.1" x2="163.85" y2="1333.6" stroke-width="3.5" stroke="#000"/>
<line x1="180.38" y1="1324.1" x2="180.38" y2="1333.6" stroke-width="3.5" stroke="#000"/>
<line x1="196.91" y1="1324.1" x2="196.91" y2="1333.6" stroke-width="3.5" stroke="#000"/>
<line x1="213.44" y1="1324.1" x2="213.44" y2="1333.6" stroke-width="3.5" stroke="#000"/>
<line x1="229.97" y1="1324.1" x2="229.97" y2="1333.6" stroke-width="3.5" stroke="#000"/>
<line x1="246.5" y1="1324.1" x2="246.5" y2="1333.6" stroke-width="3.5" stroke="#000"/>
<line x1="263.03" y1="1324.1" x2="263.03" y2="1333.6" stroke-width="3.5" stroke="#000"/>
<line x1="279.56" y1="1324.1" x2="279.56" y2="1333.6" stroke-width="3.5" stroke="#000"/>
<line x1="296.09" y1="1324.1" x2="296.09" y2="1333.6" stroke-width="3.5" stroke="#000"/>
<line x1="312.62" y1="1324.1" x2="312.62" y2="1333.6" stroke-width="3.5" stroke="#000"/>
<line x1="329.15" y1="1324.1" x2="329.15" y2="1333.6" stroke-width="3.5" stroke="#000"/>
<line x1="345.68" y1="1324.1" x2="345.68" y2="1333.6" stroke-width="3.5" stroke="#000"/>
<line x1="362.21" y1="1324.1" x2="362.21" y2="1333.6" stroke-width="3.5" stroke="#000"/>
<line x1="378.74" y1="1324.1" x2="378.74" y2="1333.6" stroke-width="3.5" stroke="#000"/>
<line x1="395.27" y1="1324.1" x2="395.27" y2="1333.6" stroke-width="3.5" stroke="#000"/>
<line x1="411.8" y1="1324.1" x2="411.8" y2="1333.6" stroke-width="3.5" stroke="#000"/>
<line x1="428.33" y1="1324.1" x2="428.33" y2="1333.6" stroke-width="3.5" stroke="#000"/>
<line x1="444.86" y1="1324.1" x2="444.86" y2="1333.6" stroke-width="3.5" stroke="#000"/>
<line x1="461.39" y1="1324.1" x2="461.39" y2="1333.6" stroke-width="3.5" stroke="#000"/>
<line x1="477.92" y1="1324.1" x2="477.92" y2="1333.6" stroke-width="3.5" stroke="#000"/>
<line x1="494.45" y1="1324.1" x2="494.45" y2="1333.6" stroke-width="3.5" stroke="#000"/>
<line x1="510.98" y1="1324.1" x2="510.98" y2="1333.6" stroke-width="3.5" stroke="#000"/>
<line x1="527.51" y1="1324.1" x2="527.51" y2="1333.6" stroke-width="3.5" stroke="#000"/>
<line x1="544.04" y1="1324.1" x2="544.04" y2="1333.6" stroke-width="3.5" stroke="#000"/>
<line x1="560.57" y1="1324.1" x2="560.57" y2="1333.6" stroke-width="3.5" stroke="#000"/>
<line x1="577.1" y1="1324.1" x2="577.1" y2="1333.6" stroke-width="3.5" stroke="#000"/>
<line x1="593.63" y1="1324.1" x2="593.63" y2="1333.6" stroke-width="3.5" stroke="#000"/>
<line x1="610.16" y1="1324.1" x2="610.16" y2="1333.6" stroke-width="3.5" stroke="#000"/>
<line x1="626.69" y1="1324.1" x2="626.69" y2="1333.6" stroke-width="3.5" stroke="#000"/>
<line x1="643.22" y1="1324.1" x2="643.22" y2="1333.6" stroke-width="3.5" stroke="#000"/>
<line x1="659.75" y1="1324.1" x2="659.75" y2="1333.6" stroke-width="3.5" stroke="#000"/>
<line x1="159.58" y1="1337.3" x2="201.18" y2="1337.3" stroke-width="3.6" stroke="#000" stroke-linecap="round"/>
<text transform="translate(197.98,1351.6) rotate(-45)" font-size="25.8" font-weight="bold" text-anchor="end">1G11.E6</text>
<line x1="225.7" y1="1337.3" x2="267.3" y2="1337.3" stroke-width="3.6" stroke="#000" stroke-linecap="round"/>
<text transform="translate(258.2,1351.6) rotate(-45)" font-size="25.8" font-weight="bold" text-anchor="end">1H1.F5</text>
<line x1="291.82" y1="1337.3" x2="333.42" y2="1337.3" stroke-width="3.6" stroke="#000" stroke-linecap="round"/>
<text transform="translate(327.42,1351.6) rotate(-45)" font-size="25.8" font-weight="bold" text-anchor="end">3G2.F5</text>
<line x1="357.94" y1="1337.3" x2="399.54" y2="1337.3" stroke-width="3.6" stroke="#000" stroke-linecap="round"/>
<text transform="translate(390.34,1351.6) rotate(-45)" font-size="25.8" font-weight="bold" text-anchor="end">4E7.D10</text>
<line x1="424.06" y1="1337.3" x2="465.66" y2="1337.3" stroke-width="3.6" stroke="#000" stroke-linecap="round"/>
<text transform="translate(458.36,1351.6) rotate(-45)" font-size="25.8" font-weight="bold" text-anchor="end">7F1.D8</text>
<line x1="490.18" y1="1337.3" x2="531.78" y2="1337.3" stroke-width="3.6" stroke="#000" stroke-linecap="round"/>
<text transform="translate(522.28,1351.6) rotate(-45)" font-size="25.8" font-weight="bold" text-anchor="end">8F7.E1</text>
<line x1="556.3" y1="1337.3" x2="597.9" y2="1337.3" stroke-width="3.6" stroke="#000" stroke-linecap="round"/>
<text transform="translate(589.2,1351.6) rotate(-45)" font-size="25.8" font-weight="bold" text-anchor="end">9G2.D6</text>
<line x1="622.42" y1="1337.3" x2="664.02" y2="1337.3" stroke-width="3.6" stroke="#000" stroke-linecap="round"/>
<text transform="translate(657.42,1351.6) rotate(-45)" font-size="25.8" font-weight="bold" text-anchor="end">Isotype</text>
<text x="413.5" y="896.5" font-size="30.5" font-weight="bold" text-anchor="middle">Mxra8-Fc</text>
<text transform="translate(85.8,1130.5) rotate(-90)" font-size="32" text-anchor="middle">OD<tspan font-size="23.5" dy="9">450</tspan></text>
<rect x="843.75" y="1297.98" width="10.9" height="26.12" fill="none" stroke="#000" stroke-width="2.9"/>
<circle cx="843.5" cy="1296.66" r="4.3" fill="none" stroke="#000" stroke-width="3.6"/>
<circle cx="851.49" cy="1298.13" r="4.3" fill="none" stroke="#000" stroke-width="3.6"/>
<circle cx="844.37" cy="1295.95" r="4.3" fill="none" stroke="#000" stroke-width="3.6"/>
<circle cx="854.43" cy="1297.9" r="4.3" fill="none" stroke="#000" stroke-width="3.6"/>
<circle cx="849.29" cy="1299.82" r="4.3" fill="none" stroke="#000" stroke-width="3.6"/>
<circle cx="840.75" cy="1298.88" r="4.3" fill="none" stroke="#000" stroke-width="3.6"/>
<rect x="860.3" y="1297.98" width="10.9" height="26.12" fill="none" stroke="#f0861a" stroke-width="2.9"/>
<circle cx="867.2" cy="1300.98" r="4.3" fill="none" stroke="#f0861a" stroke-width="3.6"/>
<circle cx="870.74" cy="1299.85" r="4.3" fill="none" stroke="#f0861a" stroke-width="3.6"/>
<circle cx="861.21" cy="1301.17" r="4.3" fill="none" stroke="#f0861a" stroke-width="3.6"/>
<circle cx="874.21" cy="1296.32" r="4.3" fill="none" stroke="#f0861a" stroke-width="3.6"/>
<circle cx="872.13" cy="1297.18" r="4.3" fill="none" stroke="#f0861a" stroke-width="3.6"/>
<circle cx="857.83" cy="1299.18" r="4.3" fill="none" stroke="#f0861a" stroke-width="3.6"/>
<rect x="876.85" y="1297.98" width="10.9" height="26.12" fill="none" stroke="#f01212" stroke-width="2.9"/>
<circle cx="882.26" cy="1300.66" r="4.3" fill="none" stroke="#f01212" stroke-width="3.6"/>
<circle cx="889.98" cy="1298.9" r="4.3" fill="none" stroke="#f01212" stroke-width="3.6"/>
<circle cx="876.43" cy="1295.77" r="4.3" fill="none" stroke="#f01212" stroke-width="3.6"/>
<circle cx="875.92" cy="1295" r="4.3" fill="none" stroke="#f01212" stroke-width="3.6"/>
<circle cx="881.5" cy="1297.62" r="4.3" fill="none" stroke="#f01212" stroke-width="3.6"/>
<circle cx="879.63" cy="1298.09" r="4.3" fill="none" stroke="#f01212" stroke-width="3.6"/>
<rect x="909.95" y="1266.65" width="10.9" height="57.45" fill="none" stroke="#000" stroke-width="2.9"/>
<circle cx="915.4" cy="1256.2" r="4.3" fill="none" stroke="#000" stroke-width="3.6"/>
<circle cx="915.4" cy="1259.68" r="4.3" fill="none" stroke="#000" stroke-width="3.6"/>
<circle cx="915.4" cy="1266.65" r="4.3" fill="none" stroke="#000" stroke-width="3.6"/>
<circle cx="915.4" cy="1271.87" r="4.3" fill="none" stroke="#000" stroke-width="3.6"/>
<circle cx="915.4" cy="1277.09" r="4.3" fill="none" stroke="#000" stroke-width="3.6"/>
<rect x="926.5" y="1223.12" width="10.9" height="100.98" fill="none" stroke="#f0861a" stroke-width="2.9"/>
<circle cx="926.95" cy="1212.68" r="4.3" fill="#000" stroke="#f0861a" stroke-width="3.6"/>
<circle cx="933.95" cy="1216.16" r="4.3" fill="#000" stroke="#f0861a" stroke-width="3.6"/>
<circle cx="924.95" cy="1222.25" r="4.3" fill="#000" stroke="#f0861a" stroke-width="3.6"/>
<circle cx="936.95" cy="1222.25" r="4.3" fill="#000" stroke="#f0861a" stroke-width="3.6"/>
<circle cx="929.95" cy="1233.57" r="4.3" fill="#000" stroke="#f0861a" stroke-width="3.6"/>
<circle cx="939.95" cy="1230.09" r="4.3" fill="#000" stroke="#f0861a" stroke-width="3.6"/>
<rect x="943.05" y="1191.78" width="10.9" height="132.32" fill="none" stroke="#f01212" stroke-width="2.9"/>
<line x1="948.5" y1="1202.23" x2="948.5" y2="1181.34" stroke-width="2.8" stroke="#000"/>
<line x1="944.5" y1="1181.34" x2="952.5" y2="1181.34" stroke-width="2.8" stroke="#000"/>
<line x1="944.5" y1="1202.23" x2="952.5" y2="1202.23" stroke-width="2.8" stroke="#000"/>
<circle cx="948.5" cy="1176.12" r="4.3" fill="none" stroke="#f01212" stroke-width="3.6"/>
<circle cx="948.5" cy="1184.82" r="4.3" fill="none" stroke="#f01212" stroke-width="3.6"/>
<circle cx="948.5" cy="1191.78" r="4.3" fill="none" stroke="#f01212" stroke-width="3.6"/>
<circle cx="948.5" cy="1198.75" r="4.3" fill="none" stroke="#f01212" stroke-width="3.6"/>
<circle cx="948.5" cy="1205.71" r="4.3" fill="none" stroke="#f01212" stroke-width="3.6"/>
<rect x="976.15" y="1230.09" width="10.9" height="94.01" fill="none" stroke="#000" stroke-width="2.9"/>
<line x1="981.6" y1="1249.24" x2="981.6" y2="1210.93" stroke-width="2.8" stroke="#000"/>
<line x1="977.6" y1="1210.93" x2="985.6" y2="1210.93" stroke-width="2.8" stroke="#000"/>
<line x1="977.6" y1="1249.24" x2="985.6" y2="1249.24" stroke-width="2.8" stroke="#000"/>
<circle cx="981.6" cy="1205.71" r="4.3" fill="none" stroke="#000" stroke-width="3.6"/>
<circle cx="980.6" cy="1210.93" r="4.3" fill="none" stroke="#000" stroke-width="3.6"/>
<circle cx="981.6" cy="1237.05" r="4.3" fill="none" stroke="#000" stroke-width="3.6"/>
<circle cx="981.6" cy="1244.01" r="4.3" fill="none" stroke="#000" stroke-width="3.6"/>
<circle cx="981.6" cy="1250.98" r="4.3" fill="none" stroke="#000" stroke-width="3.6"/>
<rect x="992.7" y="1090.81" width="10.9" height="233.29" fill="none" stroke="#f0861a" stroke-width="2.9"/>
<line x1="998.15" y1="1120.4" x2="998.15" y2="1059.47" stroke-width="2.8" stroke="#000"/>
<line x1="994.15" y1="1059.47" x2="1002.15" y2="1059.47" stroke-width="2.8" stroke="#000"/>
<line x1="994.15" y1="1120.4" x2="1002.15" y2="1120.4" stroke-width="2.8" stroke="#000"/>
<circle cx="998.15" cy="1052.5" r="4.3" fill="none" stroke="#f0861a" stroke-width="3.6"/>
<circle cx="1006.15" cy="1065.56" r="4.3" fill="none" stroke="#f0861a" stroke-width="3.6"/>
<circle cx="995.65" cy="1074.27" r="4.3" fill="none" stroke="#f0861a" stroke-width="3.6"/>
<circle cx="990.15" cy="1106.47" r="4.3" fill="none" stroke="#f0861a" stroke-width="3.6"/>
<circle cx="1002.15" cy="1111.7" r="4.3" fill="none" stroke="#f0861a" stroke-width="3.6"/>
<circle cx="998.15" cy="1130.85" r="4.3" fill="none" stroke="#f0861a" stroke-width="3.6"/>
<rect x="1009.25" y="1028.13" width="10.9" height="295.97" fill="none" stroke="#f01212" stroke-width="2.9"/>
<line x1="1014.7" y1="1052.5" x2="1014.7" y2="1002.01" stroke-width="2.8" stroke="#000"/>
<line x1="1010.7" y1="1002.01" x2="1018.7" y2="1002.01" stroke-width="2.8" stroke="#000"/>
<line x1="1010.7" y1="1052.5" x2="1018.7" y2="1052.5" stroke-width="2.8" stroke="#000"/>
<circle cx="1014.7" cy="993.31" r="4.3" fill="#1c6b1c" stroke="#f01212" stroke-width="3.6"/>
<circle cx="1006.7" cy="1005.5" r="4.3" fill="#1c6b1c" stroke="#f01212" stroke-width="3.6"/>
<circle cx="1017.7" cy="1012.46" r="4.3" fill="#1c6b1c" stroke="#f01212" stroke-width="3.6"/>
<circle cx="1014.7" cy="1050.76" r="4.3" fill="#1c6b1c" stroke="#f01212" stroke-width="3.6"/>
<circle cx="1014.7" cy="1054.24" r="4.3" fill="#1c6b1c" stroke="#f01212" stroke-width="3.6"/>
<rect x="1042.35" y="1296.24" width="10.9" height="27.86" fill="none" stroke="#000" stroke-width="2.9"/>
<circle cx="1038.8" cy="1297.98" r="4.3" fill="none" stroke="#000" stroke-width="3.6"/>
<circle cx="1044.8" cy="1294.5" r="4.3" fill="none" stroke="#000" stroke-width="3.6"/>
<circle cx="1049.8" cy="1292.76" r="4.3" fill="none" stroke="#000" stroke-width="3.6"/>
<circle cx="1054.8" cy="1297.98" r="4.3" fill="none" stroke="#000" stroke-width="3.6"/>
<circle cx="1047.8" cy="1299.73" r="4.3" fill="none" stroke="#000" stroke-width="3.6"/>
<rect x="1058.9" y="1264.91" width="10.9" height="59.19" fill="none" stroke="#f0861a" stroke-width="2.9"/>
<line x1="1064.35" y1="1277.09" x2="1064.35" y2="1244.01" stroke-width="2.8" stroke="#000"/>
<line x1="1060.35" y1="1244.01" x2="1068.35" y2="1244.01" stroke-width="2.8" stroke="#000"/>
<line x1="1060.35" y1="1277.09" x2="1068.35" y2="1277.09" stroke-width="2.8" stroke="#000"/>
<circle cx="1064.35" cy="1235.31" r="4.3" fill="none" stroke="#f0861a" stroke-width="3.6"/>
<circle cx="1056.35" cy="1250.98" r="4.3" fill="none" stroke="#f0861a" stroke-width="3.6"/>
<circle cx="1068.35" cy="1257.07" r="4.3" fill="none" stroke="#f0861a" stroke-width="3.6"/>
<circle cx="1064.35" cy="1273.61" r="4.3" fill="none" stroke="#f0861a" stroke-width="3.6"/>
<circle cx="1064.35" cy="1280.57" r="4.3" fill="none" stroke="#f0861a" stroke-width="3.6"/>
<circle cx="1064.35" cy="1285.8" r="4.3" fill="none" stroke="#f0861a" stroke-width="3.6"/>
<rect x="1075.45" y="1136.07" width="10.9" height="188.03" fill="none" stroke="#f01212" stroke-width="2.9"/>
<line x1="1080.9" y1="1186.56" x2="1080.9" y2="1085.58" stroke-width="2.8" stroke="#000"/>
<line x1="1076.9" y1="1085.58" x2="1084.9" y2="1085.58" stroke-width="2.8" stroke="#000"/>
<line x1="1076.9" y1="1186.56" x2="1084.9" y2="1186.56" stroke-width="2.8" stroke="#000"/>
<circle cx="1080.9" cy="1071.65" r="4.3" fill="none" stroke="#f01212" stroke-width="3.6"/>
<circle cx="1088.9" cy="1098.64" r="4.3" fill="none" stroke="#f01212" stroke-width="3.6"/>
<circle cx="1077.9" cy="1110.83" r="4.3" fill="none" stroke="#f01212" stroke-width="3.6"/>
<circle cx="1080.9" cy="1150" r="4.3" fill="none" stroke="#f01212" stroke-width="3.6"/>
<circle cx="1088.9" cy="1188.3" r="4.3" fill="none" stroke="#f01212" stroke-width="3.6"/>
<circle cx="1077.9" cy="1197.01" r="4.3" fill="none" stroke="#f01212" stroke-width="3.6"/>
<rect x="1108.55" y="1297.98" width="10.9" height="26.12" fill="none" stroke="#000" stroke-width="2.9"/>
<circle cx="1121.79" cy="1300.49" r="4.3" fill="none" stroke="#000" stroke-width="3.6"/>
<circle cx="1105.9" cy="1294.51" r="4.3" fill="none" stroke="#000" stroke-width="3.6"/>
<circle cx="1108.63" cy="1300.63" r="4.3" fill="none" stroke="#000" stroke-width="3.6"/>
<circle cx="1116.57" cy="1299.06" r="4.3" fill="none" stroke="#000" stroke-width="3.6"/>
<circle cx="1120.62" cy="1299.85" r="4.3" fill="none" stroke="#000" stroke-width="3.6"/>
<circle cx="1121.81" cy="1299.24" r="4.3" fill="none" stroke="#000" stroke-width="3.6"/>
<rect x="1125.1" y="1297.98" width="10.9" height="26.12" fill="none" stroke="#f0861a" stroke-width="2.9"/>
<circle cx="1132.27" cy="1294.98" r="4.3" fill="none" stroke="#f0861a" stroke-width="3.6"/>
<circle cx="1133.7" cy="1295.03" r="4.3" fill="none" stroke="#f0861a" stroke-width="3.6"/>
<circle cx="1134.09" cy="1301.13" r="4.3" fill="none" stroke="#f0861a" stroke-width="3.6"/>
<circle cx="1137.03" cy="1297.36" r="4.3" fill="none" stroke="#f0861a" stroke-width="3.6"/>
<circle cx="1127.33" cy="1300.14" r="4.3" fill="none" stroke="#f0861a" stroke-width="3.6"/>
<circle cx="1136.5" cy="1297.41" r="4.3" fill="none" stroke="#f0861a" stroke-width="3.6"/>
<rect x="1141.65" y="1297.98" width="10.9" height="26.12" fill="none" stroke="#f01212" stroke-width="2.9"/>
<circle cx="1154.55" cy="1296.08" r="4.3" fill="none" stroke="#f01212" stroke-width="3.6"/>
<circle cx="1154.94" cy="1297.52" r="4.3" fill="none" stroke="#f01212" stroke-width="3.6"/>
<circle cx="1150.47" cy="1297.2" r="4.3" fill="none" stroke="#f01212" stroke-width="3.6"/>
<circle cx="1142.99" cy="1294.8" r="4.3" fill="none" stroke="#f01212" stroke-width="3.6"/>
<circle cx="1143.91" cy="1296.03" r="4.3" fill="none" stroke="#f01212" stroke-width="3.6"/>
<circle cx="1154.83" cy="1296.93" r="4.3" fill="none" stroke="#f01212" stroke-width="3.6"/>
<rect x="1174.75" y="1298.86" width="10.9" height="25.24" fill="none" stroke="#000" stroke-width="2.9"/>
<circle cx="1187.42" cy="1295.73" r="4.3" fill="none" stroke="#000" stroke-width="3.6"/>
<circle cx="1186.87" cy="1301.76" r="4.3" fill="none" stroke="#000" stroke-width="3.6"/>
<circle cx="1181.76" cy="1299.39" r="4.3" fill="none" stroke="#000" stroke-width="3.6"/>
<circle cx="1180.71" cy="1301.43" r="4.3" fill="none" stroke="#000" stroke-width="3.6"/>
<circle cx="1174.96" cy="1299.24" r="4.3" fill="none" stroke="#000" stroke-width="3.6"/>
<circle cx="1175.46" cy="1299.17" r="4.3" fill="none" stroke="#000" stroke-width="3.6"/>
<rect x="1191.3" y="1298.86" width="10.9" height="25.24" fill="none" stroke="#f0861a" stroke-width="2.9"/>
<circle cx="1188.67" cy="1301.74" r="4.3" fill="none" stroke="#f0861a" stroke-width="3.6"/>
<circle cx="1200.32" cy="1299.4" r="4.3" fill="none" stroke="#f0861a" stroke-width="3.6"/>
<circle cx="1196.96" cy="1297.22" r="4.3" fill="none" stroke="#f0861a" stroke-width="3.6"/>
<circle cx="1194.35" cy="1301.94" r="4.3" fill="none" stroke="#f0861a" stroke-width="3.6"/>
<circle cx="1201.56" cy="1298.23" r="4.3" fill="none" stroke="#f0861a" stroke-width="3.6"/>
<circle cx="1199.43" cy="1298.01" r="4.3" fill="none" stroke="#f0861a" stroke-width="3.6"/>
<rect x="1207.85" y="1298.86" width="10.9" height="25.24" fill="none" stroke="#f01212" stroke-width="2.9"/>
<circle cx="1221.3" cy="1299.81" r="4.3" fill="none" stroke="#f01212" stroke-width="3.6"/>
<circle cx="1217.72" cy="1299.77" r="4.3" fill="none" stroke="#f01212" stroke-width="3.6"/>
<circle cx="1214.52" cy="1297.74" r="4.3" fill="none" stroke="#f01212" stroke-width="3.6"/>
<circle cx="1210.14" cy="1301.74" r="4.3" fill="none" stroke="#f01212" stroke-width="3.6"/>
<circle cx="1212.86" cy="1297.34" r="4.3" fill="none" stroke="#f01212" stroke-width="3.6"/>
<circle cx="1214.84" cy="1299.22" r="4.3" fill="none" stroke="#f01212" stroke-width="3.6"/>
<rect x="1240.95" y="1120.4" width="10.9" height="203.7" fill="none" stroke="#000" stroke-width="2.9"/>
<line x1="1246.4" y1="1150" x2="1246.4" y2="1092.55" stroke-width="2.8" stroke="#000"/>
<line x1="1242.4" y1="1092.55" x2="1250.4" y2="1092.55" stroke-width="2.8" stroke="#000"/>
<line x1="1242.4" y1="1150" x2="1250.4" y2="1150" stroke-width="2.8" stroke="#000"/>
<circle cx="1246.4" cy="1089.06" r="4.3" fill="none" stroke="#000" stroke-width="3.6"/>
<circle cx="1247.4" cy="1092.55" r="4.3" fill="none" stroke="#000" stroke-width="3.6"/>
<circle cx="1238.4" cy="1136.07" r="4.3" fill="none" stroke="#000" stroke-width="3.6"/>
<circle cx="1250.9" cy="1146.52" r="4.3" fill="none" stroke="#000" stroke-width="3.6"/>
<circle cx="1246.4" cy="1162.19" r="4.3" fill="none" stroke="#000" stroke-width="3.6"/>
<rect x="1257.5" y="1033.35" width="10.9" height="290.75" fill="none" stroke="#f0861a" stroke-width="2.9"/>
<line x1="1262.95" y1="1057.73" x2="1262.95" y2="1010.72" stroke-width="2.8" stroke="#000"/>
<line x1="1258.95" y1="1010.72" x2="1266.95" y2="1010.72" stroke-width="2.8" stroke="#000"/>
<line x1="1258.95" y1="1057.73" x2="1266.95" y2="1057.73" stroke-width="2.8" stroke="#000"/>
<circle cx="1262.95" cy="1005.5" r="4.3" fill="none" stroke="#f0861a" stroke-width="3.6"/>
<circle cx="1261.95" cy="1012.46" r="4.3" fill="none" stroke="#f0861a" stroke-width="3.6"/>
<circle cx="1262.95" cy="1057.73" r="4.3" fill="none" stroke="#f0861a" stroke-width="3.6"/>
<circle cx="1262.95" cy="1052.5" r="4.3" fill="none" stroke="#f0861a" stroke-width="3.6"/>
<rect x="1274.05" y="1015.94" width="10.9" height="308.16" fill="none" stroke="#f01212" stroke-width="2.9"/>
<line x1="1279.5" y1="1038.58" x2="1279.5" y2="993.31" stroke-width="2.8" stroke="#000"/>
<line x1="1275.5" y1="993.31" x2="1283.5" y2="993.31" stroke-width="2.8" stroke="#000"/>
<line x1="1275.5" y1="1038.58" x2="1283.5" y2="1038.58" stroke-width="2.8" stroke="#000"/>
<circle cx="1279.5" cy="989.83" r="4.3" fill="none" stroke="#f01212" stroke-width="3.6"/>
<circle cx="1278.5" cy="998.53" r="4.3" fill="none" stroke="#f01212" stroke-width="3.6"/>
<circle cx="1279.5" cy="1031.61" r="4.3" fill="none" stroke="#f01212" stroke-width="3.6"/>
<circle cx="1279.5" cy="1038.58" r="4.3" fill="none" stroke="#f01212" stroke-width="3.6"/>
<rect x="1307.15" y="1297.98" width="10.9" height="26.12" fill="none" stroke="#000" stroke-width="2.9"/>
<circle cx="1316.21" cy="1295.62" r="4.3" fill="none" stroke="#000" stroke-width="3.6"/>
<circle cx="1307.2" cy="1294.51" r="4.3" fill="none" stroke="#000" stroke-width="3.6"/>
<circle cx="1307.4" cy="1296.79" r="4.3" fill="none" stroke="#000" stroke-width="3.6"/>
<circle cx="1305.66" cy="1296.19" r="4.3" fill="none" stroke="#000" stroke-width="3.6"/>
<circle cx="1306.67" cy="1296.55" r="4.3" fill="none" stroke="#000" stroke-width="3.6"/>
<circle cx="1316.42" cy="1296.13" r="4.3" fill="none" stroke="#000" stroke-width="3.6"/>
<rect x="1323.7" y="1297.98" width="10.9" height="26.12" fill="none" stroke="#f0861a" stroke-width="2.9"/>
<circle cx="1328.15" cy="1295.44" r="4.3" fill="none" stroke="#f0861a" stroke-width="3.6"/>
<circle cx="1337.44" cy="1300.66" r="4.3" fill="none" stroke="#f0861a" stroke-width="3.6"/>
<circle cx="1329.44" cy="1294.79" r="4.3" fill="none" stroke="#f0861a" stroke-width="3.6"/>
<circle cx="1333.22" cy="1298.37" r="4.3" fill="none" stroke="#f0861a" stroke-width="3.6"/>
<circle cx="1325.83" cy="1294.83" r="4.3" fill="none" stroke="#f0861a" stroke-width="3.6"/>
<circle cx="1322.1" cy="1296.17" r="4.3" fill="none" stroke="#f0861a" stroke-width="3.6"/>
<rect x="1340.25" y="1297.98" width="10.9" height="26.12" fill="none" stroke="#f01212" stroke-width="2.9"/>
<circle cx="1351.54" cy="1300.37" r="4.3" fill="none" stroke="#f01212" stroke-width="3.6"/>
<circle cx="1342.76" cy="1299.34" r="4.3" fill="none" stroke="#f01212" stroke-width="3.6"/>
<circle cx="1346.42" cy="1298.91" r="4.3" fill="none" stroke="#f01212" stroke-width="3.6"/>
<circle cx="1352.39" cy="1295.03" r="4.3" fill="none" stroke="#f01212" stroke-width="3.6"/>
<circle cx="1342.57" cy="1295.24" r="4.3" fill="none" stroke="#f01212" stroke-width="3.6"/>
<circle cx="1338.38" cy="1300.79" r="4.3" fill="none" stroke="#f01212" stroke-width="3.6"/>
<line x1="838.5" y1="941.5" x2="838.5" y2="1325.9" stroke-width="3.6" stroke="#000"/>
<line x1="828.5" y1="1324.1" x2="1358" y2="1324.1" stroke-width="3.6" stroke="#000"/>
<text x="826.5" y="1333.1" font-size="28" text-anchor="end">0.0</text>
<line x1="828.5" y1="1237.05" x2="838.5" y2="1237.05" stroke-width="3.4" stroke="#000"/>
<text x="826.5" y="1246.05" font-size="28" text-anchor="end">0.5</text>
<line x1="828.5" y1="1150" x2="838.5" y2="1150" stroke-width="3.4" stroke="#000"/>
<text x="826.5" y="1159" font-size="28" text-anchor="end">1.0</text>
<line x1="828.5" y1="1062.95" x2="838.5" y2="1062.95" stroke-width="3.4" stroke="#000"/>
<text x="826.5" y="1071.95" font-size="28" text-anchor="end">1.5</text>
<line x1="828.5" y1="975.9" x2="838.5" y2="975.9" stroke-width="3.4" stroke="#000"/>
<text x="826.5" y="984.9" font-size="28" text-anchor="end">2.0</text>
<line x1="849.2" y1="1324.1" x2="849.2" y2="1333.6" stroke-width="3.5" stroke="#000"/>
<line x1="865.75" y1="1324.1" x2="865.75" y2="1333.6" stroke-width="3.5" stroke="#000"/>
<line x1="882.3" y1="1324.1" x2="882.3" y2="1333.6" stroke-width="3.5" stroke="#000"/>
<line x1="898.85" y1="1324.1" x2="898.85" y2="1333.6" stroke-width="3.5" stroke="#000"/>
<line x1="915.4" y1="1324.1" x2="915.4" y2="1333.6" stroke-width="3.5" stroke="#000"/>
<line x1="931.95" y1="1324.1" x2="931.95" y2="1333.6" stroke-width="3.5" stroke="#000"/>
<line x1="948.5" y1="1324.1" x2="948.5" y2="1333.6" stroke-width="3.5" stroke="#000"/>
<line x1="965.05" y1="1324.1" x2="965.05" y2="1333.6" stroke-width="3.5" stroke="#000"/>
<line x1="981.6" y1="1324.1" x2="981.6" y2="1333.6" stroke-width="3.5" stroke="#000"/>
<line x1="998.15" y1="1324.1" x2="998.15" y2="1333.6" stroke-width="3.5" stroke="#000"/>
<line x1="1014.7" y1="1324.1" x2="1014.7" y2="1333.6" stroke-width="3.5" stroke="#000"/>
<line x1="1031.25" y1="1324.1" x2="1031.25" y2="1333.6" stroke-width="3.5" stroke="#000"/>
<line x1="1047.8" y1="1324.1" x2="1047.8" y2="1333.6" stroke-width="3.5" stroke="#000"/>
<line x1="1064.35" y1="1324.1" x2="1064.35" y2="1333.6" stroke-width="3.5" stroke="#000"/>
<line x1="1080.9" y1="1324.1" x2="1080.9" y2="1333.6" stroke-width="3.5" stroke="#000"/>
<line x1="1097.45" y1="1324.1" x2="1097.45" y2="1333.6" stroke-width="3.5" stroke="#000"/>
<line x1="1114" y1="1324.1" x2="1114" y2="1333.6" stroke-width="3.5" stroke="#000"/>
<line x1="1130.55" y1="1324.1" x2="1130.55" y2="1333.6" stroke-width="3.5" stroke="#000"/>
<line x1="1147.1" y1="1324.1" x2="1147.1" y2="1333.6" stroke-width="3.5" stroke="#000"/>
<line x1="1163.65" y1="1324.1" x2="1163.65" y2="1333.6" stroke-width="3.5" stroke="#000"/>
<line x1="1180.2" y1="1324.1" x2="1180.2" y2="1333.6" stroke-width="3.5" stroke="#000"/>
<line x1="1196.75" y1="1324.1" x2="1196.75" y2="1333.6" stroke-width="3.5" stroke="#000"/>
<line x1="1213.3" y1="1324.1" x2="1213.3" y2="1333.6" stroke-width="3.5" stroke="#000"/>
<line x1="1229.85" y1="1324.1" x2="1229.85" y2="1333.6" stroke-width="3.5" stroke="#000"/>
<line x1="1246.4" y1="1324.1" x2="1246.4" y2="1333.6" stroke-width="3.5" stroke="#000"/>
<line x1="1262.95" y1="1324.1" x2="1262.95" y2="1333.6" stroke-width="3.5" stroke="#000"/>
<line x1="1279.5" y1="1324.1" x2="1279.5" y2="1333.6" stroke-width="3.5" stroke="#000"/>
<line x1="1296.05" y1="1324.1" x2="1296.05" y2="1333.6" stroke-width="3.5" stroke="#000"/>
<line x1="1312.6" y1="1324.1" x2="1312.6" y2="1333.6" stroke-width="3.5" stroke="#000"/>
<line x1="1329.15" y1="1324.1" x2="1329.15" y2="1333.6" stroke-width="3.5" stroke="#000"/>
<line x1="1345.7" y1="1324.1" x2="1345.7" y2="1333.6" stroke-width="3.5" stroke="#000"/>
<line x1="844.95" y1="1337.3" x2="886.55" y2="1337.3" stroke-width="3.6" stroke="#000" stroke-linecap="round"/>
<text transform="translate(883.35,1351.6) rotate(-45)" font-size="25.8" font-weight="bold" text-anchor="end">1G11.E6</text>
<line x1="911.15" y1="1337.3" x2="952.75" y2="1337.3" stroke-width="3.6" stroke="#000" stroke-linecap="round"/>
<text transform="translate(943.65,1351.6) rotate(-45)" font-size="25.8" font-weight="bold" text-anchor="end">1H1.F5</text>
<line x1="977.35" y1="1337.3" x2="1018.95" y2="1337.3" stroke-width="3.6" stroke="#000" stroke-linecap="round"/>
<text transform="translate(1012.95,1351.6) rotate(-45)" font-size="25.8" font-weight="bold" text-anchor="end">3G2.F5</text>
<line x1="1043.55" y1="1337.3" x2="1085.15" y2="1337.3" stroke-width="3.6" stroke="#000" stroke-linecap="round"/>
<text transform="translate(1075.95,1351.6) rotate(-45)" font-size="25.8" font-weight="bold" text-anchor="end">4E7.D10</text>
<line x1="1109.75" y1="1337.3" x2="1151.35" y2="1337.3" stroke-width="3.6" stroke="#000" stroke-linecap="round"/>
<text transform="translate(1144.05,1351.6) rotate(-45)" font-size="25.8" font-weight="bold" text-anchor="end">7F1.D8</text>
<line x1="1175.95" y1="1337.3" x2="1217.55" y2="1337.3" stroke-width="3.6" stroke="#000" stroke-linecap="round"/>
<text transform="translate(1208.05,1351.6) rotate(-45)" font-size="25.8" font-weight="bold" text-anchor="end">8F7.E1</text>
<line x1="1242.15" y1="1337.3" x2="1283.75" y2="1337.3" stroke-width="3.6" stroke="#000" stroke-linecap="round"/>
<text transform="translate(1275.05,1351.6) rotate(-45)" font-size="25.8" font-weight="bold" text-anchor="end">9G2.D6</text>
<line x1="1308.35" y1="1337.3" x2="1349.95" y2="1337.3" stroke-width="3.6" stroke="#000" stroke-linecap="round"/>
<text transform="translate(1343.35,1351.6) rotate(-45)" font-size="25.8" font-weight="bold" text-anchor="end">Isotype</text>
<text x="1099.4" y="896.5" font-size="30.5" font-weight="bold" text-anchor="middle">MXRA8-2-Fc</text>
<text transform="translate(771.2,1130.5) rotate(-90)" font-size="32" text-anchor="middle">OD<tspan font-size="23.5" dy="9">450</tspan></text>
<rect x="1487.25" y="1304.04" width="10.9" height="25.56" fill="none" stroke="#000" stroke-width="2.9"/>
<circle cx="1497.78" cy="1305.26" r="4.3" fill="none" stroke="#000" stroke-width="3.6"/>
<circle cx="1488.29" cy="1301.76" r="4.3" fill="none" stroke="#000" stroke-width="3.6"/>
<circle cx="1486.16" cy="1304.2" r="4.3" fill="none" stroke="#000" stroke-width="3.6"/>
<circle cx="1493.68" cy="1303.25" r="4.3" fill="none" stroke="#000" stroke-width="3.6"/>
<circle cx="1486.67" cy="1303.12" r="4.3" fill="none" stroke="#000" stroke-width="3.6"/>
<circle cx="1492.71" cy="1301.56" r="4.3" fill="none" stroke="#000" stroke-width="3.6"/>
<rect x="1503.95" y="1304.04" width="10.9" height="25.56" fill="none" stroke="#f0861a" stroke-width="2.9"/>
<circle cx="1501.38" cy="1300.81" r="4.3" fill="none" stroke="#f0861a" stroke-width="3.6"/>
<circle cx="1503.84" cy="1301.83" r="4.3" fill="none" stroke="#f0861a" stroke-width="3.6"/>
<circle cx="1509.52" cy="1301.67" r="4.3" fill="none" stroke="#f0861a" stroke-width="3.6"/>
<circle cx="1504.01" cy="1305.3" r="4.3" fill="none" stroke="#f0861a" stroke-width="3.6"/>
<circle cx="1502.38" cy="1302.07" r="4.3" fill="none" stroke="#f0861a" stroke-width="3.6"/>
<circle cx="1509.98" cy="1306.12" r="4.3" fill="none" stroke="#f0861a" stroke-width="3.6"/>
<rect x="1520.65" y="1304.04" width="10.9" height="25.56" fill="none" stroke="#f01212" stroke-width="2.9"/>
<circle cx="1520.86" cy="1306.99" r="4.3" fill="none" stroke="#f01212" stroke-width="3.6"/>
<circle cx="1521" cy="1303.61" r="4.3" fill="none" stroke="#f01212" stroke-width="3.6"/>
<circle cx="1525.04" cy="1302.6" r="4.3" fill="none" stroke="#f01212" stroke-width="3.6"/>
<circle cx="1518.9" cy="1301.64" r="4.3" fill="none" stroke="#f01212" stroke-width="3.6"/>
<circle cx="1534.3" cy="1302.35" r="4.3" fill="none" stroke="#f01212" stroke-width="3.6"/>
<circle cx="1530.23" cy="1301.57" r="4.3" fill="none" stroke="#f01212" stroke-width="3.6"/>
<rect x="1554.05" y="1305.8" width="10.9" height="23.8" fill="none" stroke="#000" stroke-width="2.9"/>
<circle cx="1552.32" cy="1307.82" r="4.3" fill="none" stroke="#000" stroke-width="3.6"/>
<circle cx="1556.15" cy="1302.98" r="4.3" fill="none" stroke="#000" stroke-width="3.6"/>
<circle cx="1559.44" cy="1304.25" r="4.3" fill="none" stroke="#000" stroke-width="3.6"/>
<circle cx="1552.7" cy="1305.74" r="4.3" fill="none" stroke="#000" stroke-width="3.6"/>
<circle cx="1565.33" cy="1305.64" r="4.3" fill="none" stroke="#000" stroke-width="3.6"/>
<circle cx="1567.06" cy="1303.11" r="4.3" fill="none" stroke="#000" stroke-width="3.6"/>
<rect x="1570.75" y="1305.8" width="10.9" height="23.8" fill="none" stroke="#f0861a" stroke-width="2.9"/>
<circle cx="1574.01" cy="1309.32" r="4.3" fill="#000" stroke="#f0861a" stroke-width="3.6"/>
<circle cx="1580.54" cy="1308.43" r="4.3" fill="#000" stroke="#f0861a" stroke-width="3.6"/>
<circle cx="1567.86" cy="1304.17" r="4.3" fill="#000" stroke="#f0861a" stroke-width="3.6"/>
<circle cx="1582.03" cy="1303.43" r="4.3" fill="#000" stroke="#f0861a" stroke-width="3.6"/>
<circle cx="1583.91" cy="1307.9" r="4.3" fill="#000" stroke="#f0861a" stroke-width="3.6"/>
<circle cx="1569.09" cy="1308.47" r="4.3" fill="#000" stroke="#f0861a" stroke-width="3.6"/>
<rect x="1587.45" y="1305.8" width="10.9" height="23.8" fill="none" stroke="#f01212" stroke-width="2.9"/>
<circle cx="1601.02" cy="1308.54" r="4.3" fill="none" stroke="#f01212" stroke-width="3.6"/>
<circle cx="1587.11" cy="1309.18" r="4.3" fill="none" stroke="#f01212" stroke-width="3.6"/>
<circle cx="1585.24" cy="1309.06" r="4.3" fill="none" stroke="#f01212" stroke-width="3.6"/>
<circle cx="1590.4" cy="1308.17" r="4.3" fill="none" stroke="#f01212" stroke-width="3.6"/>
<circle cx="1589.66" cy="1302.78" r="4.3" fill="none" stroke="#f01212" stroke-width="3.6"/>
<circle cx="1587.25" cy="1303.58" r="4.3" fill="none" stroke="#f01212" stroke-width="3.6"/>
<rect x="1620.85" y="1305.8" width="10.9" height="23.8" fill="none" stroke="#000" stroke-width="2.9"/>
<circle cx="1627.5" cy="1304.87" r="4.3" fill="none" stroke="#000" stroke-width="3.6"/>
<circle cx="1631.69" cy="1307.37" r="4.3" fill="none" stroke="#000" stroke-width="3.6"/>
<circle cx="1628.88" cy="1303.04" r="4.3" fill="none" stroke="#000" stroke-width="3.6"/>
<circle cx="1633.25" cy="1308.01" r="4.3" fill="none" stroke="#000" stroke-width="3.6"/>
<circle cx="1628.88" cy="1304.97" r="4.3" fill="none" stroke="#000" stroke-width="3.6"/>
<circle cx="1626.36" cy="1302.51" r="4.3" fill="none" stroke="#000" stroke-width="3.6"/>
<rect x="1637.55" y="1305.8" width="10.9" height="23.8" fill="none" stroke="#f0861a" stroke-width="2.9"/>
<circle cx="1643.48" cy="1306.19" r="4.3" fill="none" stroke="#f0861a" stroke-width="3.6"/>
<circle cx="1650.54" cy="1304.84" r="4.3" fill="none" stroke="#f0861a" stroke-width="3.6"/>
<circle cx="1639.62" cy="1307.14" r="4.3" fill="none" stroke="#f0861a" stroke-width="3.6"/>
<circle cx="1642.93" cy="1308.95" r="4.3" fill="none" stroke="#f0861a" stroke-width="3.6"/>
<circle cx="1644.83" cy="1304.14" r="4.3" fill="none" stroke="#f0861a" stroke-width="3.6"/>
<circle cx="1641.74" cy="1303.36" r="4.3" fill="none" stroke="#f0861a" stroke-width="3.6"/>
<rect x="1654.25" y="1305.8" width="10.9" height="23.8" fill="none" stroke="#f01212" stroke-width="2.9"/>
<circle cx="1666.98" cy="1305.41" r="4.3" fill="#1c6b1c" stroke="#f01212" stroke-width="3.6"/>
<circle cx="1662.78" cy="1308.5" r="4.3" fill="#1c6b1c" stroke="#f01212" stroke-width="3.6"/>
<circle cx="1652.15" cy="1302.41" r="4.3" fill="#1c6b1c" stroke="#f01212" stroke-width="3.6"/>
<circle cx="1656.04" cy="1307.82" r="4.3" fill="#1c6b1c" stroke="#f01212" stroke-width="3.6"/>
<circle cx="1666.44" cy="1304.04" r="4.3" fill="#1c6b1c" stroke="#f01212" stroke-width="3.6"/>
<circle cx="1653.29" cy="1307.06" r="4.3" fill="#1c6b1c" stroke="#f01212" stroke-width="3.6"/>
<rect x="1687.65" y="1305.8" width="10.9" height="23.8" fill="none" stroke="#000" stroke-width="2.9"/>
<circle cx="1693.59" cy="1305.19" r="4.3" fill="none" stroke="#000" stroke-width="3.6"/>
<circle cx="1698.94" cy="1302.99" r="4.3" fill="none" stroke="#000" stroke-width="3.6"/>
<circle cx="1699.6" cy="1306.75" r="4.3" fill="none" stroke="#000" stroke-width="3.6"/>
<circle cx="1700.73" cy="1306.33" r="4.3" fill="none" stroke="#000" stroke-width="3.6"/>
<circle cx="1689.81" cy="1308.66" r="4.3" fill="none" stroke="#000" stroke-width="3.6"/>
<circle cx="1693.3" cy="1308.23" r="4.3" fill="none" stroke="#000" stroke-width="3.6"/>
<rect x="1704.35" y="1305.8" width="10.9" height="23.8" fill="none" stroke="#f0861a" stroke-width="2.9"/>
<circle cx="1705.96" cy="1305.02" r="4.3" fill="none" stroke="#f0861a" stroke-width="3.6"/>
<circle cx="1714.5" cy="1304.02" r="4.3" fill="none" stroke="#f0861a" stroke-width="3.6"/>
<circle cx="1702.77" cy="1308.89" r="4.3" fill="none" stroke="#f0861a" stroke-width="3.6"/>
<circle cx="1705.64" cy="1305.43" r="4.3" fill="none" stroke="#f0861a" stroke-width="3.6"/>
<circle cx="1715.56" cy="1303.68" r="4.3" fill="none" stroke="#f0861a" stroke-width="3.6"/>
<circle cx="1717.17" cy="1305.17" r="4.3" fill="none" stroke="#f0861a" stroke-width="3.6"/>
<rect x="1721.05" y="1305.8" width="10.9" height="23.8" fill="none" stroke="#f01212" stroke-width="2.9"/>
<circle cx="1728.82" cy="1307.27" r="4.3" fill="none" stroke="#f01212" stroke-width="3.6"/>
<circle cx="1723.34" cy="1307.87" r="4.3" fill="none" stroke="#f01212" stroke-width="3.6"/>
<circle cx="1727.1" cy="1305.04" r="4.3" fill="none" stroke="#f01212" stroke-width="3.6"/>
<circle cx="1727.74" cy="1306.56" r="4.3" fill="none" stroke="#f01212" stroke-width="3.6"/>
<circle cx="1725.21" cy="1307.57" r="4.3" fill="none" stroke="#f01212" stroke-width="3.6"/>
<circle cx="1731.86" cy="1305.23" r="4.3" fill="none" stroke="#f01212" stroke-width="3.6"/>
<rect x="1754.45" y="1305.8" width="10.9" height="23.8" fill="none" stroke="#000" stroke-width="2.9"/>
<circle cx="1760.73" cy="1304.03" r="4.3" fill="none" stroke="#000" stroke-width="3.6"/>
<circle cx="1764.1" cy="1303.23" r="4.3" fill="none" stroke="#000" stroke-width="3.6"/>
<circle cx="1756.26" cy="1302.52" r="4.3" fill="none" stroke="#000" stroke-width="3.6"/>
<circle cx="1761.03" cy="1304.05" r="4.3" fill="none" stroke="#000" stroke-width="3.6"/>
<circle cx="1764.23" cy="1302.77" r="4.3" fill="none" stroke="#000" stroke-width="3.6"/>
<circle cx="1756.06" cy="1306.74" r="4.3" fill="none" stroke="#000" stroke-width="3.6"/>
<rect x="1771.15" y="1305.8" width="10.9" height="23.8" fill="none" stroke="#f0861a" stroke-width="2.9"/>
<circle cx="1780.29" cy="1305.2" r="4.3" fill="none" stroke="#f0861a" stroke-width="3.6"/>
<circle cx="1780.86" cy="1306.76" r="4.3" fill="none" stroke="#f0861a" stroke-width="3.6"/>
<circle cx="1784.34" cy="1309.25" r="4.3" fill="none" stroke="#f0861a" stroke-width="3.6"/>
<circle cx="1780.37" cy="1306.68" r="4.3" fill="none" stroke="#f0861a" stroke-width="3.6"/>
<circle cx="1768.53" cy="1304.56" r="4.3" fill="none" stroke="#f0861a" stroke-width="3.6"/>
<circle cx="1768.98" cy="1307.67" r="4.3" fill="none" stroke="#f0861a" stroke-width="3.6"/>
<rect x="1787.85" y="1305.8" width="10.9" height="23.8" fill="none" stroke="#f01212" stroke-width="2.9"/>
<circle cx="1790.32" cy="1308.22" r="4.3" fill="none" stroke="#f01212" stroke-width="3.6"/>
<circle cx="1787.59" cy="1308.81" r="4.3" fill="none" stroke="#f01212" stroke-width="3.6"/>
<circle cx="1799.18" cy="1308.74" r="4.3" fill="none" stroke="#f01212" stroke-width="3.6"/>
<circle cx="1787.53" cy="1308.78" r="4.3" fill="none" stroke="#f01212" stroke-width="3.6"/>
<circle cx="1800.26" cy="1305.48" r="4.3" fill="none" stroke="#f01212" stroke-width="3.6"/>
<circle cx="1798.78" cy="1302.47" r="4.3" fill="none" stroke="#f01212" stroke-width="3.6"/>
<rect x="1821.25" y="1305.8" width="10.9" height="23.8" fill="none" stroke="#000" stroke-width="2.9"/>
<circle cx="1823.79" cy="1302.39" r="4.3" fill="none" stroke="#000" stroke-width="3.6"/>
<circle cx="1834.51" cy="1302.85" r="4.3" fill="none" stroke="#000" stroke-width="3.6"/>
<circle cx="1831.63" cy="1303.15" r="4.3" fill="none" stroke="#000" stroke-width="3.6"/>
<circle cx="1818.21" cy="1304.9" r="4.3" fill="none" stroke="#000" stroke-width="3.6"/>
<circle cx="1822.41" cy="1304.17" r="4.3" fill="none" stroke="#000" stroke-width="3.6"/>
<circle cx="1825.55" cy="1305.38" r="4.3" fill="none" stroke="#000" stroke-width="3.6"/>
<rect x="1837.95" y="1305.8" width="10.9" height="23.8" fill="none" stroke="#f0861a" stroke-width="2.9"/>
<circle cx="1844.13" cy="1305.26" r="4.3" fill="none" stroke="#f0861a" stroke-width="3.6"/>
<circle cx="1848.96" cy="1302.4" r="4.3" fill="none" stroke="#f0861a" stroke-width="3.6"/>
<circle cx="1840.77" cy="1303.64" r="4.3" fill="none" stroke="#f0861a" stroke-width="3.6"/>
<circle cx="1850.02" cy="1306.56" r="4.3" fill="none" stroke="#f0861a" stroke-width="3.6"/>
<circle cx="1837" cy="1305.82" r="4.3" fill="none" stroke="#f0861a" stroke-width="3.6"/>
<circle cx="1847.9" cy="1305.63" r="4.3" fill="none" stroke="#f0861a" stroke-width="3.6"/>
<rect x="1854.65" y="1305.8" width="10.9" height="23.8" fill="none" stroke="#f01212" stroke-width="2.9"/>
<circle cx="1854.74" cy="1304.35" r="4.3" fill="none" stroke="#f01212" stroke-width="3.6"/>
<circle cx="1857.12" cy="1303.08" r="4.3" fill="none" stroke="#f01212" stroke-width="3.6"/>
<circle cx="1854.46" cy="1305.14" r="4.3" fill="none" stroke="#f01212" stroke-width="3.6"/>
<circle cx="1858.15" cy="1302.38" r="4.3" fill="none" stroke="#f01212" stroke-width="3.6"/>
<circle cx="1853.96" cy="1303.12" r="4.3" fill="none" stroke="#f01212" stroke-width="3.6"/>
<circle cx="1858.7" cy="1306.7" r="4.3" fill="none" stroke="#f01212" stroke-width="3.6"/>
<rect x="1888.05" y="1305.8" width="10.9" height="23.8" fill="none" stroke="#000" stroke-width="2.9"/>
<circle cx="1896.59" cy="1308.68" r="4.3" fill="none" stroke="#000" stroke-width="3.6"/>
<circle cx="1895.5" cy="1303.39" r="4.3" fill="none" stroke="#000" stroke-width="3.6"/>
<circle cx="1899.19" cy="1305.69" r="4.3" fill="none" stroke="#000" stroke-width="3.6"/>
<circle cx="1895.73" cy="1306.72" r="4.3" fill="none" stroke="#000" stroke-width="3.6"/>
<circle cx="1893.98" cy="1308.56" r="4.3" fill="none" stroke="#000" stroke-width="3.6"/>
<circle cx="1896.61" cy="1305.09" r="4.3" fill="none" stroke="#000" stroke-width="3.6"/>
<rect x="1904.75" y="1305.8" width="10.9" height="23.8" fill="none" stroke="#f0861a" stroke-width="2.9"/>
<circle cx="1906.49" cy="1306.66" r="4.3" fill="none" stroke="#f0861a" stroke-width="3.6"/>
<circle cx="1914.21" cy="1306.2" r="4.3" fill="none" stroke="#f0861a" stroke-width="3.6"/>
<circle cx="1918.01" cy="1302.48" r="4.3" fill="none" stroke="#f0861a" stroke-width="3.6"/>
<circle cx="1915.95" cy="1308.68" r="4.3" fill="none" stroke="#f0861a" stroke-width="3.6"/>
<circle cx="1902.98" cy="1307.29" r="4.3" fill="none" stroke="#f0861a" stroke-width="3.6"/>
<circle cx="1907.84" cy="1304.35" r="4.3" fill="none" stroke="#f0861a" stroke-width="3.6"/>
<rect x="1921.45" y="1305.8" width="10.9" height="23.8" fill="none" stroke="#f01212" stroke-width="2.9"/>
<circle cx="1932.46" cy="1305.36" r="4.3" fill="none" stroke="#f01212" stroke-width="3.6"/>
<circle cx="1929.27" cy="1305.28" r="4.3" fill="none" stroke="#f01212" stroke-width="3.6"/>
<circle cx="1918.98" cy="1305.61" r="4.3" fill="none" stroke="#f01212" stroke-width="3.6"/>
<circle cx="1922.03" cy="1306.39" r="4.3" fill="none" stroke="#f01212" stroke-width="3.6"/>
<circle cx="1918.55" cy="1304.7" r="4.3" fill="none" stroke="#f01212" stroke-width="3.6"/>
<circle cx="1933.87" cy="1308.84" r="4.3" fill="none" stroke="#f01212" stroke-width="3.6"/>
<rect x="1954.85" y="1305.8" width="10.9" height="23.8" fill="none" stroke="#000" stroke-width="2.9"/>
<circle cx="1962.67" cy="1306.3" r="4.3" fill="none" stroke="#000" stroke-width="3.6"/>
<circle cx="1964.11" cy="1308.86" r="4.3" fill="none" stroke="#000" stroke-width="3.6"/>
<circle cx="1963.66" cy="1306.68" r="4.3" fill="none" stroke="#000" stroke-width="3.6"/>
<circle cx="1962.14" cy="1308.13" r="4.3" fill="none" stroke="#000" stroke-width="3.6"/>
<circle cx="1957.66" cy="1307.44" r="4.3" fill="none" stroke="#000" stroke-width="3.6"/>
<circle cx="1957.4" cy="1304.2" r="4.3" fill="none" stroke="#000" stroke-width="3.6"/>
<rect x="1971.55" y="1305.8" width="10.9" height="23.8" fill="none" stroke="#f0861a" stroke-width="2.9"/>
<circle cx="1976.54" cy="1302.54" r="4.3" fill="none" stroke="#f0861a" stroke-width="3.6"/>
<circle cx="1978.41" cy="1307.75" r="4.3" fill="none" stroke="#f0861a" stroke-width="3.6"/>
<circle cx="1978.92" cy="1305.6" r="4.3" fill="none" stroke="#f0861a" stroke-width="3.6"/>
<circle cx="1970.89" cy="1305.61" r="4.3" fill="none" stroke="#f0861a" stroke-width="3.6"/>
<circle cx="1968.7" cy="1306.69" r="4.3" fill="none" stroke="#f0861a" stroke-width="3.6"/>
<circle cx="1977.62" cy="1304.49" r="4.3" fill="none" stroke="#f0861a" stroke-width="3.6"/>
<rect x="1988.25" y="1305.8" width="10.9" height="23.8" fill="none" stroke="#f01212" stroke-width="2.9"/>
<circle cx="2001.51" cy="1304.99" r="4.3" fill="none" stroke="#f01212" stroke-width="3.6"/>
<circle cx="1985.62" cy="1305.97" r="4.3" fill="none" stroke="#f01212" stroke-width="3.6"/>
<circle cx="1989.45" cy="1304.06" r="4.3" fill="none" stroke="#f01212" stroke-width="3.6"/>
<circle cx="2000.39" cy="1308.71" r="4.3" fill="none" stroke="#f01212" stroke-width="3.6"/>
<circle cx="1998.32" cy="1307.26" r="4.3" fill="none" stroke="#f01212" stroke-width="3.6"/>
<circle cx="1988.31" cy="1306.13" r="4.3" fill="none" stroke="#f01212" stroke-width="3.6"/>
<line x1="1481.8" y1="942.7" x2="1481.8" y2="1331.4" stroke-width="3.6" stroke="#000"/>
<line x1="1471.8" y1="1329.6" x2="2007" y2="1329.6" stroke-width="3.6" stroke="#000"/>
<text x="1469.8" y="1338.6" font-size="28" text-anchor="end">0.0</text>
<line x1="1471.8" y1="1241.45" x2="1481.8" y2="1241.45" stroke-width="3.4" stroke="#000"/>
<text x="1469.8" y="1250.45" font-size="28" text-anchor="end">0.5</text>
<line x1="1471.8" y1="1153.3" x2="1481.8" y2="1153.3" stroke-width="3.4" stroke="#000"/>
<text x="1469.8" y="1162.3" font-size="28" text-anchor="end">1.0</text>
<line x1="1471.8" y1="1065.15" x2="1481.8" y2="1065.15" stroke-width="3.4" stroke="#000"/>
<text x="1469.8" y="1074.15" font-size="28" text-anchor="end">1.5</text>
<line x1="1471.8" y1="977" x2="1481.8" y2="977" stroke-width="3.4" stroke="#000"/>
<text x="1469.8" y="986" font-size="28" text-anchor="end">2.0</text>
<line x1="1492.7" y1="1329.6" x2="1492.7" y2="1339.1" stroke-width="3.5" stroke="#000"/>
<line x1="1509.4" y1="1329.6" x2="1509.4" y2="1339.1" stroke-width="3.5" stroke="#000"/>
<line x1="1526.1" y1="1329.6" x2="1526.1" y2="1339.1" stroke-width="3.5" stroke="#000"/>
<line x1="1542.8" y1="1329.6" x2="1542.8" y2="1339.1" stroke-width="3.5" stroke="#000"/>
<line x1="1559.5" y1="1329.6" x2="1559.5" y2="1339.1" stroke-width="3.5" stroke="#000"/>
<line x1="1576.2" y1="1329.6" x2="1576.2" y2="1339.1" stroke-width="3.5" stroke="#000"/>
<line x1="1592.9" y1="1329.6" x2="1592.9" y2="1339.1" stroke-width="3.5" stroke="#000"/>
<line x1="1609.6" y1="1329.6" x2="1609.6" y2="1339.1" stroke-width="3.5" stroke="#000"/>
<line x1="1626.3" y1="1329.6" x2="1626.3" y2="1339.1" stroke-width="3.5" stroke="#000"/>
<line x1="1643" y1="1329.6" x2="1643" y2="1339.1" stroke-width="3.5" stroke="#000"/>
<line x1="1659.7" y1="1329.6" x2="1659.7" y2="1339.1" stroke-width="3.5" stroke="#000"/>
<line x1="1676.4" y1="1329.6" x2="1676.4" y2="1339.1" stroke-width="3.5" stroke="#000"/>
<line x1="1693.1" y1="1329.6" x2="1693.1" y2="1339.1" stroke-width="3.5" stroke="#000"/>
<line x1="1709.8" y1="1329.6" x2="1709.8" y2="1339.1" stroke-width="3.5" stroke="#000"/>
<line x1="1726.5" y1="1329.6" x2="1726.5" y2="1339.1" stroke-width="3.5" stroke="#000"/>
<line x1="1743.2" y1="1329.6" x2="1743.2" y2="1339.1" stroke-width="3.5" stroke="#000"/>
<line x1="1759.9" y1="1329.6" x2="1759.9" y2="1339.1" stroke-width="3.5" stroke="#000"/>
<line x1="1776.6" y1="1329.6" x2="1776.6" y2="1339.1" stroke-width="3.5" stroke="#000"/>
<line x1="1793.3" y1="1329.6" x2="1793.3" y2="1339.1" stroke-width="3.5" stroke="#000"/>
<line x1="1810" y1="1329.6" x2="1810" y2="1339.1" stroke-width="3.5" stroke="#000"/>
<line x1="1826.7" y1="1329.6" x2="1826.7" y2="1339.1" stroke-width="3.5" stroke="#000"/>
<line x1="1843.4" y1="1329.6" x2="1843.4" y2="1339.1" stroke-width="3.5" stroke="#000"/>
<line x1="1860.1" y1="1329.6" x2="1860.1" y2="1339.1" stroke-width="3.5" stroke="#000"/>
<line x1="1876.8" y1="1329.6" x2="1876.8" y2="1339.1" stroke-width="3.5" stroke="#000"/>
<line x1="1893.5" y1="1329.6" x2="1893.5" y2="1339.1" stroke-width="3.5" stroke="#000"/>
<line x1="1910.2" y1="1329.6" x2="1910.2" y2="1339.1" stroke-width="3.5" stroke="#000"/>
<line x1="1926.9" y1="1329.6" x2="1926.9" y2="1339.1" stroke-width="3.5" stroke="#000"/>
<line x1="1943.6" y1="1329.6" x2="1943.6" y2="1339.1" stroke-width="3.5" stroke="#000"/>
<line x1="1960.3" y1="1329.6" x2="1960.3" y2="1339.1" stroke-width="3.5" stroke="#000"/>
<line x1="1977" y1="1329.6" x2="1977" y2="1339.1" stroke-width="3.5" stroke="#000"/>
<line x1="1993.7" y1="1329.6" x2="1993.7" y2="1339.1" stroke-width="3.5" stroke="#000"/>
<line x1="1488.6" y1="1342.8" x2="1530.2" y2="1342.8" stroke-width="3.6" stroke="#000" stroke-linecap="round"/>
<text transform="translate(1527,1357.1) rotate(-45)" font-size="25.8" font-weight="bold" text-anchor="end">1G11.E6</text>
<line x1="1555.4" y1="1342.8" x2="1597" y2="1342.8" stroke-width="3.6" stroke="#000" stroke-linecap="round"/>
<text transform="translate(1587.9,1357.1) rotate(-45)" font-size="25.8" font-weight="bold" text-anchor="end">1H1.F5</text>
<line x1="1622.2" y1="1342.8" x2="1663.8" y2="1342.8" stroke-width="3.6" stroke="#000" stroke-linecap="round"/>
<text transform="translate(1657.8,1357.1) rotate(-45)" font-size="25.8" font-weight="bold" text-anchor="end">3G2.F5</text>
<line x1="1689" y1="1342.8" x2="1730.6" y2="1342.8" stroke-width="3.6" stroke="#000" stroke-linecap="round"/>
<text transform="translate(1721.4,1357.1) rotate(-45)" font-size="25.8" font-weight="bold" text-anchor="end">4E7.D10</text>
<line x1="1755.8" y1="1342.8" x2="1797.4" y2="1342.8" stroke-width="3.6" stroke="#000" stroke-linecap="round"/>
<text transform="translate(1790.1,1357.1) rotate(-45)" font-size="25.8" font-weight="bold" text-anchor="end">7F1.D8</text>
<line x1="1822.6" y1="1342.8" x2="1864.2" y2="1342.8" stroke-width="3.6" stroke="#000" stroke-linecap="round"/>
<text transform="translate(1854.7,1357.1) rotate(-45)" font-size="25.8" font-weight="bold" text-anchor="end">8F7.E1</text>
<line x1="1889.4" y1="1342.8" x2="1931" y2="1342.8" stroke-width="3.6" stroke="#000" stroke-linecap="round"/>
<text transform="translate(1922.3,1357.1) rotate(-45)" font-size="25.8" font-weight="bold" text-anchor="end">9G2.D6</text>
<line x1="1956.2" y1="1342.8" x2="1997.8" y2="1342.8" stroke-width="3.6" stroke="#000" stroke-linecap="round"/>
<text transform="translate(1991.2,1357.1) rotate(-45)" font-size="25.8" font-weight="bold" text-anchor="end">Isotype</text>
<text x="1745" y="896.5" font-size="30.5" font-weight="bold" text-anchor="middle">OPG-Fc</text>
<text transform="translate(1413.3,1133.5) rotate(-90)" font-size="32" text-anchor="middle">OD<tspan font-size="23.5" dy="9">450</tspan></text>
<circle cx="1515.8" cy="965.8" r="4.9" fill="none" stroke="#000" stroke-width="3.8"/>
<text x="1553" y="974.6" font-size="27" textLength="117.5" lengthAdjust="spacingAndGlyphs">0.1 <tspan font-family="'Liberation Serif','DejaVu Serif',serif" font-weight="normal" font-size="112%">μ</tspan>g/mL</text>
<circle cx="1515.8" cy="1010.8" r="4.9" fill="none" stroke="#f0861a" stroke-width="3.8"/>
<text x="1553" y="1019.6" font-size="27" textLength="94.5" lengthAdjust="spacingAndGlyphs">1 <tspan font-family="'Liberation Serif','DejaVu Serif',serif" font-weight="normal" font-size="112%">μ</tspan>g/mL</text>
<circle cx="1515.8" cy="1056.2" r="4.9" fill="none" stroke="#f01212" stroke-width="3.8"/>
<text x="1553" y="1065" font-size="27" textLength="110" lengthAdjust="spacingAndGlyphs">10 <tspan font-family="'Liberation Serif','DejaVu Serif',serif" font-weight="normal" font-size="112%">μ</tspan>g/mL</text>
<text x="5" y="1551" font-size="58" font-weight="bold">d</text>
<text x="107" y="1575" font-size="34.3" font-weight="bold" textLength="490" lengthAdjust="spacingAndGlyphs">mAb blockade on MRC-5 cells</text>
<path d="M152.1 1677.84 L400.41 1677.84 C414.43 1677.84 412.42 1705.93 429.11 1705.93 L535.91 1705.93" fill="none" stroke="#000" stroke-width="4.6"/>
<line x1="452.48" y1="1728.66" x2="452.48" y2="1704.14" stroke-width="3.2" stroke="#000"/>
<line x1="445.48" y1="1704.14" x2="459.48" y2="1704.14" stroke-width="3.2" stroke="#000"/>
<line x1="445.48" y1="1728.66" x2="459.48" y2="1728.66" stroke-width="3.2" stroke="#000"/>
<line x1="412.42" y1="1693" x2="412.42" y2="1679.63" stroke-width="3.2" stroke="#000"/>
<line x1="405.42" y1="1679.63" x2="419.42" y2="1679.63" stroke-width="3.2" stroke="#000"/>
<line x1="405.42" y1="1693" x2="419.42" y2="1693" stroke-width="3.2" stroke="#000"/>
<circle cx="172.12" cy="1671.16" r="6.82" fill="#000"/>
<circle cx="212.17" cy="1669.82" r="6.82" fill="#000"/>
<circle cx="252.22" cy="1681.85" r="6.82" fill="#000"/>
<circle cx="292.27" cy="1681.85" r="6.82" fill="#000"/>
<circle cx="332.33" cy="1678.29" r="6.82" fill="#000"/>
<circle cx="372.38" cy="1686.31" r="6.82" fill="#000"/>
<circle cx="412.42" cy="1686.31" r="6.82" fill="#000"/>
<circle cx="452.48" cy="1717.96" r="6.82" fill="#000"/>
<circle cx="492.52" cy="1684.08" r="6.82" fill="#000"/>
<circle cx="532.58" cy="1699.68" r="6.82" fill="#000"/>
<line x1="372.38" y1="1778.58" x2="372.38" y2="1745.6" stroke-width="3.2" stroke="#f01414"/>
<line x1="365.38" y1="1745.6" x2="379.38" y2="1745.6" stroke-width="3.2" stroke="#f01414"/>
<line x1="412.42" y1="1857.03" x2="412.42" y2="1843.66" stroke-width="3.2" stroke="#f01414"/>
<line x1="405.42" y1="1843.66" x2="419.42" y2="1843.66" stroke-width="3.2" stroke="#f01414"/>
<line x1="452.48" y1="1946.18" x2="452.48" y2="1924.34" stroke-width="3.2" stroke="#f01414"/>
<line x1="445.48" y1="1924.34" x2="459.48" y2="1924.34" stroke-width="3.2" stroke="#f01414"/>
<line x1="492.52" y1="1997.45" x2="492.52" y2="1976.94" stroke-width="3.2" stroke="#f01414"/>
<line x1="485.52" y1="1976.94" x2="499.52" y2="1976.94" stroke-width="3.2" stroke="#f01414"/>
<line x1="532.58" y1="2025.53" x2="532.58" y2="2007.25" stroke-width="3.2" stroke="#f01414"/>
<line x1="525.58" y1="2007.25" x2="539.58" y2="2007.25" stroke-width="3.2" stroke="#f01414"/>
<polyline points="152.1,1688.36 155.28,1688.38 158.46,1688.41 161.65,1688.44 164.83,1688.47 168.01,1688.5 171.19,1688.54 174.37,1688.58 177.55,1688.63 180.74,1688.68 183.92,1688.73 187.1,1688.79 190.28,1688.85 193.46,1688.92 196.64,1689 199.83,1689.08 203.01,1689.17 206.19,1689.27 209.37,1689.37 212.55,1689.49 215.73,1689.62 218.92,1689.76 222.1,1689.91 225.28,1690.07 228.46,1690.25 231.64,1690.45 234.83,1690.67 238.01,1690.9 241.19,1691.15 244.37,1691.43 247.55,1691.74 250.73,1692.07 253.92,1692.43 257.1,1692.82 260.28,1693.25 263.46,1693.71 266.64,1694.22 269.82,1694.77 273.01,1695.37 276.19,1696.02 279.37,1696.73 282.55,1697.5 285.73,1698.34 288.92,1699.25 292.1,1700.23 295.28,1701.31 298.46,1702.47 301.64,1703.73 304.82,1705.09 308.01,1706.57 311.19,1708.17 314.37,1709.9 317.55,1711.76 320.73,1713.77 323.91,1715.94 327.1,1718.27 330.28,1720.78 333.46,1723.48 336.64,1726.37 339.82,1729.46 343,1732.77 346.19,1736.31 349.37,1740.07 352.55,1744.07 355.73,1748.32 358.91,1752.82 362.1,1757.58 365.28,1762.59 368.46,1767.86 371.64,1773.38 374.82,1779.16 378,1785.19 381.19,1791.46 384.37,1797.95 387.55,1804.66 390.73,1811.56 393.91,1818.64 397.09,1825.88 400.28,1833.25 403.46,1840.73 406.64,1848.3 409.82,1855.91 413,1863.55 416.19,1871.18 419.37,1878.78 422.55,1886.32 425.73,1893.76 428.91,1901.09 432.09,1908.28 435.28,1915.29 438.46,1922.13 441.64,1928.76 444.82,1935.17 448,1941.35 451.18,1947.29 454.37,1952.98 457.55,1958.41 460.73,1963.59 463.91,1968.5 467.09,1973.17 470.27,1977.57 473.46,1981.73 476.64,1985.65 479.82,1989.33 483,1992.78 486.18,1996.01 489.37,1999.03 492.55,2001.85 495.73,2004.47 498.91,2006.92 502.09,2009.19 505.27,2011.3 508.46,2013.26 511.64,2015.07 514.82,2016.75 518,2018.3 521.18,2019.74 524.36,2021.06 527.55,2022.29 530.73,2023.41 533.91,2024.46" fill="none" stroke="#f01414" stroke-width="5" stroke-linecap="round" stroke-linejoin="round"/>
<rect x="165.12" y="1673.52" width="14" height="14" fill="#f01414"/>
<rect x="205.17" y="1679.31" width="14" height="14" fill="#f01414"/>
<rect x="245.22" y="1696.25" width="14" height="14" fill="#f01414"/>
<rect x="285.27" y="1700.26" width="14" height="14" fill="#f01414"/>
<rect x="325.33" y="1704.72" width="14" height="14" fill="#f01414"/>
<rect x="365.38" y="1771.58" width="14" height="14" fill="#f01414"/>
<rect x="405.42" y="1850.03" width="14" height="14" fill="#f01414"/>
<rect x="445.48" y="1939.18" width="14" height="14" fill="#f01414"/>
<rect x="485.52" y="1990.45" width="14" height="14" fill="#f01414"/>
<rect x="525.58" y="2018.53" width="14" height="14" fill="#f01414"/>
<line x1="412.42" y1="1739.8" x2="412.42" y2="1709.05" stroke-width="3.2" stroke="#22f02a"/>
<line x1="405.42" y1="1709.05" x2="419.42" y2="1709.05" stroke-width="3.2" stroke="#22f02a"/>
<line x1="452.48" y1="1781.7" x2="452.48" y2="1754.51" stroke-width="3.2" stroke="#22f02a"/>
<line x1="445.48" y1="1754.51" x2="459.48" y2="1754.51" stroke-width="3.2" stroke="#22f02a"/>
<line x1="492.52" y1="1861.49" x2="492.52" y2="1848.12" stroke-width="3.2" stroke="#22f02a"/>
<line x1="485.52" y1="1848.12" x2="499.52" y2="1848.12" stroke-width="3.2" stroke="#22f02a"/>
<line x1="532.58" y1="1922.11" x2="532.58" y2="1907.4" stroke-width="3.2" stroke="#22f02a"/>
<line x1="525.58" y1="1907.4" x2="539.58" y2="1907.4" stroke-width="3.2" stroke="#22f02a"/>
<polyline points="152.1,1689.46 155.28,1689.46 158.46,1689.46 161.65,1689.46 164.83,1689.47 168.01,1689.47 171.19,1689.47 174.37,1689.48 177.55,1689.48 180.74,1689.49 183.92,1689.49 187.1,1689.5 190.28,1689.5 193.46,1689.51 196.64,1689.52 199.83,1689.53 203.01,1689.54 206.19,1689.54 209.37,1689.56 212.55,1689.57 215.73,1689.58 218.92,1689.59 222.1,1689.61 225.28,1689.63 228.46,1689.65 231.64,1689.67 234.83,1689.69 238.01,1689.71 241.19,1689.74 244.37,1689.77 247.55,1689.8 250.73,1689.84 253.92,1689.88 257.1,1689.92 260.28,1689.97 263.46,1690.02 266.64,1690.08 269.82,1690.14 273.01,1690.21 276.19,1690.28 279.37,1690.37 282.55,1690.46 285.73,1690.55 288.92,1690.66 292.1,1690.78 295.28,1690.91 298.46,1691.05 301.64,1691.21 304.82,1691.38 308.01,1691.56 311.19,1691.77 314.37,1691.99 317.55,1692.23 320.73,1692.5 323.91,1692.79 327.1,1693.11 330.28,1693.46 333.46,1693.85 336.64,1694.27 339.82,1694.72 343,1695.22 346.19,1695.77 349.37,1696.37 352.55,1697.02 355.73,1697.73 358.91,1698.51 362.1,1699.35 365.28,1700.27 368.46,1701.27 371.64,1702.36 374.82,1703.55 378,1704.84 381.19,1706.23 384.37,1707.75 387.55,1709.39 390.73,1711.17 393.91,1713.09 397.09,1715.16 400.28,1717.4 403.46,1719.8 406.64,1722.39 409.82,1725.16 413,1728.13 416.19,1731.3 419.37,1734.69 422.55,1738.29 425.73,1742.11 428.91,1746.16 432.09,1750.44 435.28,1754.94 438.46,1759.67 441.64,1764.61 444.82,1769.77 448,1775.14 451.18,1780.7 454.37,1786.43 457.55,1792.33 460.73,1798.37 463.91,1804.53 467.09,1810.79 470.27,1817.12 473.46,1823.5 476.64,1829.9 479.82,1836.29 483,1842.65 486.18,1848.94 489.37,1855.15 492.55,1861.26 495.73,1867.23 498.91,1873.05 502.09,1878.69 505.27,1884.15 508.46,1889.42 511.64,1894.47 514.82,1899.31 518,1903.92 521.18,1908.31 524.36,1912.47 527.55,1916.41 530.73,1920.12 533.91,1923.61" fill="none" stroke="#22f02a" stroke-width="5" stroke-linecap="round" stroke-linejoin="round"/>
<polygon points="172.12,1680.1 179.62,1693.6 164.62,1693.6" fill="#22f02a"/>
<polygon points="212.17,1687.23 219.67,1700.73 204.67,1700.73" fill="#22f02a"/>
<polygon points="252.22,1669.4 259.73,1682.9 244.72,1682.9" fill="#22f02a"/>
<polygon points="292.27,1667.17 299.77,1680.67 284.77,1680.67" fill="#22f02a"/>
<polygon points="332.33,1664.94 339.83,1678.44 324.83,1678.44" fill="#22f02a"/>
<polygon points="372.38,1693.91 379.88,1707.41 364.88,1707.41" fill="#22f02a"/>
<polygon points="412.42,1731.8 419.92,1745.3 404.92,1745.3" fill="#22f02a"/>
<polygon points="452.48,1773.7 459.98,1787.2 444.98,1787.2" fill="#22f02a"/>
<polygon points="492.52,1853.49 500.02,1866.99 485.02,1866.99" fill="#22f02a"/>
<polygon points="532.58,1914.11 540.08,1927.61 525.08,1927.61" fill="#22f02a"/>
<line x1="292.27" y1="1697.46" x2="292.27" y2="1681.85" stroke-width="3.2" stroke="#000"/>
<line x1="285.27" y1="1681.85" x2="299.27" y2="1681.85" stroke-width="3.2" stroke="#000"/>
<line x1="285.27" y1="1697.46" x2="299.27" y2="1697.46" stroke-width="3.2" stroke="#000"/>
<line x1="332.33" y1="1697.46" x2="332.33" y2="1681.85" stroke-width="3.2" stroke="#000"/>
<line x1="325.33" y1="1681.85" x2="339.33" y2="1681.85" stroke-width="3.2" stroke="#000"/>
<line x1="325.33" y1="1697.46" x2="339.33" y2="1697.46" stroke-width="3.2" stroke="#000"/>
<polygon points="172.12,1714.28 180.37,1699.43 163.87,1699.43" fill="#000"/>
<polygon points="212.17,1719.18 220.42,1704.33 203.92,1704.33" fill="#000"/>
<polygon points="252.22,1718.29 260.48,1703.44 243.97,1703.44" fill="#000"/>
<polygon points="292.27,1699.57 300.52,1684.72 284.02,1684.72" fill="#000"/>
<polygon points="332.33,1699.57 340.58,1684.72 324.08,1684.72" fill="#000"/>
<polygon points="372.38,1721.86 380.62,1707.01 364.12,1707.01" fill="#000"/>
<polygon points="412.42,1690.65 420.67,1675.8 404.17,1675.8" fill="#000"/>
<polygon points="452.48,1681.74 460.73,1666.89 444.23,1666.89" fill="#000"/>
<polygon points="492.52,1720.52 500.77,1705.67 484.27,1705.67" fill="#000"/>
<polygon points="532.58,1720.52 540.83,1705.67 524.33,1705.67" fill="#000"/>
<line x1="412.42" y1="1688.54" x2="412.42" y2="1672.94" stroke-width="3.2" stroke="#000"/>
<line x1="405.42" y1="1672.94" x2="419.42" y2="1672.94" stroke-width="3.2" stroke="#000"/>
<line x1="405.42" y1="1688.54" x2="419.42" y2="1688.54" stroke-width="3.2" stroke="#000"/>
<line x1="492.52" y1="1688.54" x2="492.52" y2="1675.17" stroke-width="3.2" stroke="#000"/>
<line x1="485.52" y1="1675.17" x2="499.52" y2="1675.17" stroke-width="3.2" stroke="#000"/>
<line x1="485.52" y1="1688.54" x2="499.52" y2="1688.54" stroke-width="3.2" stroke="#000"/>
<polygon points="172.12,1656.12 179.27,1664.92 172.12,1673.72 164.97,1664.92" fill="#000"/>
<polygon points="212.17,1668.6 219.32,1677.4 212.17,1686.2 205.02,1677.4" fill="#000"/>
<polygon points="252.22,1659.68 259.38,1668.48 252.22,1677.28 245.07,1668.48" fill="#000"/>
<polygon points="292.27,1666.37 299.42,1675.17 292.27,1683.97 285.12,1675.17" fill="#000"/>
<polygon points="332.33,1664.14 339.48,1672.94 332.33,1681.74 325.18,1672.94" fill="#000"/>
<polygon points="372.38,1664.14 379.52,1672.94 372.38,1681.74 365.23,1672.94" fill="#000"/>
<polygon points="412.42,1654.78 419.57,1663.58 412.42,1672.38 405.27,1663.58" fill="#000"/>
<polygon points="452.48,1673.05 459.62,1681.85 452.48,1690.65 445.33,1681.85" fill="#000"/>
<polygon points="492.52,1668.6 499.67,1677.4 492.52,1686.2 485.38,1677.4" fill="#000"/>
<polygon points="532.58,1666.37 539.73,1675.17 532.58,1683.97 525.43,1675.17" fill="#000"/>
<line x1="372.38" y1="1690.77" x2="372.38" y2="1672.94" stroke-width="3.2" stroke="#000"/>
<line x1="365.38" y1="1672.94" x2="379.38" y2="1672.94" stroke-width="3.2" stroke="#000"/>
<line x1="365.38" y1="1690.77" x2="379.38" y2="1690.77" stroke-width="3.2" stroke="#000"/>
<line x1="532.58" y1="1688.54" x2="532.58" y2="1670.71" stroke-width="3.2" stroke="#000"/>
<line x1="525.58" y1="1670.71" x2="539.58" y2="1670.71" stroke-width="3.2" stroke="#000"/>
<line x1="525.58" y1="1688.54" x2="539.58" y2="1688.54" stroke-width="3.2" stroke="#000"/>
<circle cx="172.12" cy="1677.4" r="6.16" fill="none" stroke="#000" stroke-width="2.8"/>
<circle cx="212.17" cy="1672.94" r="6.16" fill="none" stroke="#000" stroke-width="2.8"/>
<circle cx="252.22" cy="1672.94" r="6.16" fill="none" stroke="#000" stroke-width="2.8"/>
<circle cx="292.27" cy="1670.71" r="6.16" fill="none" stroke="#000" stroke-width="2.8"/>
<circle cx="332.33" cy="1665.81" r="6.16" fill="none" stroke="#000" stroke-width="2.8"/>
<circle cx="372.38" cy="1665.81" r="6.16" fill="none" stroke="#000" stroke-width="2.8"/>
<circle cx="412.42" cy="1681.85" r="6.16" fill="none" stroke="#000" stroke-width="2.8"/>
<circle cx="452.48" cy="1667.15" r="6.16" fill="none" stroke="#000" stroke-width="2.8"/>
<circle cx="492.52" cy="1666.25" r="6.16" fill="none" stroke="#000" stroke-width="2.8"/>
<circle cx="532.58" cy="1678.29" r="6.16" fill="none" stroke="#000" stroke-width="2.8"/>
<line x1="492.52" y1="1931.03" x2="492.52" y2="1918.99" stroke-width="3.2" stroke="#8b4513"/>
<line x1="485.52" y1="1918.99" x2="499.52" y2="1918.99" stroke-width="3.2" stroke="#8b4513"/>
<polyline points="273.58,1664.51 275.75,1664.7 277.92,1664.91 280.09,1665.12 282.26,1665.35 284.43,1665.6 286.6,1665.86 288.77,1666.13 290.94,1666.42 293.11,1666.73 295.28,1667.05 297.45,1667.4 299.62,1667.77 301.79,1668.15 303.96,1668.57 306.13,1669 308.29,1669.46 310.46,1669.95 312.63,1670.46 314.8,1671.01 316.97,1671.59 319.14,1672.2 321.31,1672.85 323.48,1673.53 325.65,1674.25 327.82,1675.02 329.99,1675.82 332.16,1676.68 334.33,1677.58 336.5,1678.53 338.67,1679.53 340.84,1680.59 343,1681.7 345.17,1682.88 347.34,1684.11 349.51,1685.42 351.68,1686.79 353.85,1688.24 356.02,1689.75 358.19,1691.35 360.36,1693.03 362.53,1694.79 364.7,1696.63 366.87,1698.57 369.04,1700.6 371.21,1702.72 373.38,1704.95 375.55,1707.27 377.71,1709.7 379.88,1712.23 382.05,1714.87 384.22,1717.62 386.39,1720.48 388.56,1723.46 390.73,1726.55 392.9,1729.75 395.07,1733.08 397.24,1736.51 399.41,1740.07 401.58,1743.74 403.75,1747.52 405.92,1751.42 408.09,1755.42 410.26,1759.53 412.42,1763.75 414.59,1768.07 416.76,1772.48 418.93,1776.98 421.1,1781.57 423.27,1786.24 425.44,1790.98 427.61,1795.79 429.78,1800.66 431.95,1805.57 434.12,1810.53 436.29,1815.52 438.46,1820.54 440.63,1825.58 442.8,1830.62 444.97,1835.66 447.13,1840.69 449.3,1845.7 451.47,1850.69 453.64,1855.63 455.81,1860.54 457.98,1865.38 460.15,1870.17 462.32,1874.89 464.49,1879.54 466.66,1884.1 468.83,1888.57 471,1892.96 473.17,1897.25 475.34,1901.43 477.51,1905.51 479.68,1909.48 481.84,1913.34 484.01,1917.09 486.18,1920.73 488.35,1924.24 490.52,1927.65 492.69,1930.93 494.86,1934.1 497.03,1937.16 499.2,1940.1 501.37,1942.93 503.54,1945.64 505.71,1948.25 507.88,1950.75 510.05,1953.14 512.22,1955.44 514.39,1957.63 516.56,1959.72 518.72,1961.72 520.89,1963.63 523.06,1965.45 525.23,1967.19 527.4,1968.84 529.57,1970.41 531.74,1971.91 533.91,1973.33" fill="none" stroke="#8b4513" stroke-width="5" stroke-linecap="round" stroke-linejoin="round"/>
<rect x="205.24" y="1657.09" width="13.86" height="13.86" fill="none" stroke="#8b4513" stroke-width="3.2"/>
<rect x="245.29" y="1657.09" width="13.86" height="13.86" fill="none" stroke="#8b4513" stroke-width="3.2"/>
<rect x="285.34" y="1657.09" width="13.86" height="13.86" fill="none" stroke="#8b4513" stroke-width="3.2"/>
<rect x="325.4" y="1672.25" width="13.86" height="13.86" fill="none" stroke="#8b4513" stroke-width="3.2"/>
<rect x="365.44" y="1697.66" width="13.86" height="13.86" fill="none" stroke="#8b4513" stroke-width="3.2"/>
<rect x="405.49" y="1755.16" width="13.86" height="13.86" fill="none" stroke="#8b4513" stroke-width="3.2"/>
<rect x="445.55" y="1854.56" width="13.86" height="13.86" fill="none" stroke="#8b4513" stroke-width="3.2"/>
<rect x="485.59" y="1924.1" width="13.86" height="13.86" fill="none" stroke="#8b4513" stroke-width="3.2"/>
<rect x="525.65" y="1967.78" width="13.86" height="13.86" fill="none" stroke="#8b4513" stroke-width="3.2"/>
<line x1="452.48" y1="1713.06" x2="452.48" y2="1681.85" stroke-width="3.2" stroke="#000"/>
<line x1="445.48" y1="1681.85" x2="459.48" y2="1681.85" stroke-width="3.2" stroke="#000"/>
<line x1="445.48" y1="1713.06" x2="459.48" y2="1713.06" stroke-width="3.2" stroke="#000"/>
<line x1="492.52" y1="1695.23" x2="492.52" y2="1679.63" stroke-width="3.2" stroke="#000"/>
<line x1="485.52" y1="1679.63" x2="499.52" y2="1679.63" stroke-width="3.2" stroke="#000"/>
<line x1="485.52" y1="1695.23" x2="499.52" y2="1695.23" stroke-width="3.2" stroke="#000"/>
<line x1="532.58" y1="1686.31" x2="532.58" y2="1668.48" stroke-width="3.2" stroke="#000"/>
<line x1="525.58" y1="1668.48" x2="539.58" y2="1668.48" stroke-width="3.2" stroke="#000"/>
<line x1="525.58" y1="1686.31" x2="539.58" y2="1686.31" stroke-width="3.2" stroke="#000"/>
<polygon points="172.12,1665.24 179.05,1678 165.19,1678" fill="none" stroke="#000" stroke-width="2.6" stroke-linejoin="miter"/>
<polygon points="212.17,1669.7 219.1,1682.46 205.24,1682.46" fill="none" stroke="#000" stroke-width="2.6" stroke-linejoin="miter"/>
<polygon points="252.22,1674.15 259.15,1686.91 245.29,1686.91" fill="none" stroke="#000" stroke-width="2.6" stroke-linejoin="miter"/>
<polygon points="292.27,1671.93 299.2,1684.69 285.34,1684.69" fill="none" stroke="#000" stroke-width="2.6" stroke-linejoin="miter"/>
<polygon points="332.33,1669.7 339.26,1682.46 325.4,1682.46" fill="none" stroke="#000" stroke-width="2.6" stroke-linejoin="miter"/>
<polygon points="372.38,1674.15 379.31,1686.91 365.44,1686.91" fill="none" stroke="#000" stroke-width="2.6" stroke-linejoin="miter"/>
<polygon points="412.42,1674.15 419.35,1686.91 405.49,1686.91" fill="none" stroke="#000" stroke-width="2.6" stroke-linejoin="miter"/>
<polygon points="452.48,1678.17 459.41,1690.93 445.55,1690.93" fill="#fff" stroke="#000" stroke-width="2.6" stroke-linejoin="miter"/>
<polygon points="492.52,1679.5 499.45,1692.26 485.59,1692.26" fill="#fff" stroke="#000" stroke-width="2.6" stroke-linejoin="miter"/>
<polygon points="532.58,1665.24 539.5,1678 525.65,1678" fill="#fff" stroke="#000" stroke-width="2.6" stroke-linejoin="miter"/>
<line x1="152.1" y1="1663.5" x2="152.1" y2="2067.6" stroke-width="4.8" stroke="#000"/>
<line x1="137.6" y1="2065.2" x2="556.3" y2="2065.2" stroke-width="4.8" stroke="#000"/>
<text x="138.4" y="2075.1" font-size="28" font-weight="bold" text-anchor="end">20</text>
<line x1="137.6" y1="1976.05" x2="152.1" y2="1976.05" stroke-width="4.5" stroke="#000"/>
<text x="138.4" y="1985.95" font-size="28" font-weight="bold" text-anchor="end">40</text>
<line x1="137.6" y1="1886.9" x2="152.1" y2="1886.9" stroke-width="4.5" stroke="#000"/>
<text x="138.4" y="1896.8" font-size="28" font-weight="bold" text-anchor="end">60</text>
<line x1="137.6" y1="1797.75" x2="152.1" y2="1797.75" stroke-width="4.5" stroke="#000"/>
<text x="138.4" y="1807.65" font-size="28" font-weight="bold" text-anchor="end">80</text>
<line x1="137.6" y1="1708.6" x2="152.1" y2="1708.6" stroke-width="4.5" stroke="#000"/>
<text x="138.4" y="1718.5" font-size="28" font-weight="bold" text-anchor="end">100</text>
<line x1="152.1" y1="2065.2" x2="152.1" y2="2079.2" stroke-width="4.5" stroke="#000"/>
<text x="151.6" y="2105.4" font-size="28" font-weight="bold" text-anchor="middle">-4</text>
<line x1="218.85" y1="2065.2" x2="218.85" y2="2079.2" stroke-width="4.5" stroke="#000"/>
<text x="218.35" y="2105.4" font-size="28" font-weight="bold" text-anchor="middle">-3</text>
<line x1="285.6" y1="2065.2" x2="285.6" y2="2079.2" stroke-width="4.5" stroke="#000"/>
<text x="285.1" y="2105.4" font-size="28" font-weight="bold" text-anchor="middle">-2</text>
<line x1="352.35" y1="2065.2" x2="352.35" y2="2079.2" stroke-width="4.5" stroke="#000"/>
<text x="351.85" y="2105.4" font-size="28" font-weight="bold" text-anchor="middle">-1</text>
<line x1="419.1" y1="2065.2" x2="419.1" y2="2079.2" stroke-width="4.5" stroke="#000"/>
<text x="418.6" y="2105.4" font-size="28" font-weight="bold" text-anchor="middle">0</text>
<line x1="485.85" y1="2065.2" x2="485.85" y2="2079.2" stroke-width="4.5" stroke="#000"/>
<text x="485.35" y="2105.4" font-size="28" font-weight="bold" text-anchor="middle">1</text>
<line x1="552.6" y1="2065.2" x2="552.6" y2="2079.2" stroke-width="4.5" stroke="#000"/>
<text x="552.1" y="2105.4" font-size="28" font-weight="bold" text-anchor="middle">2</text>
<text transform="translate(72.7,1859.6) rotate(-90)" font-size="30" font-weight="bold" text-anchor="middle" textLength="303.5" lengthAdjust="spacingAndGlyphs">Relative infection (%)</text>
<text x="218.6" y="2150.6" font-size="30" font-weight="bold" textLength="267.5" lengthAdjust="spacingAndGlyphs">[mAb] (log<tspan font-size="22.5" dy="8.5">10</tspan><tspan dy="-8.5"><tspan font-family="'Liberation Serif','DejaVu Serif',serif" font-weight="normal" font-size="112%">μ</tspan></tspan>g/mL)</text>
<line x1="633" y1="1699.6" x2="671.5" y2="1699.6" stroke-width="4.8" stroke="#000" stroke-linecap="round"/>
<circle cx="652.3" cy="1699.6" r="6.51" fill="#000"/>
<text x="695.6" y="1708.4" font-size="29" font-weight="bold">1G11.E6</text>
<line x1="633" y1="1738" x2="671.5" y2="1738" stroke-width="4.8" stroke="#f01414" stroke-linecap="round"/>
<rect x="644.95" y="1730.65" width="14.7" height="14.7" fill="#f01414"/>
<text x="695.6" y="1746.8" font-size="29" font-weight="bold" textLength="265" lengthAdjust="spacingAndGlyphs">1H1.F5, 0.84 <tspan font-family="'Liberation Serif','DejaVu Serif',serif" font-weight="normal" font-size="112%">μ</tspan>g/mL</text>
<line x1="633" y1="1781.3" x2="671.5" y2="1781.3" stroke-width="4.8" stroke="#22f02a" stroke-linecap="round"/>
<polygon points="652.3,1773.9 660.17,1788.08 644.42,1788.08" fill="#22f02a"/>
<text x="695.6" y="1790.1" font-size="29" font-weight="bold" textLength="266" lengthAdjust="spacingAndGlyphs">3G2.F5, 7.06 <tspan font-family="'Liberation Serif','DejaVu Serif',serif" font-weight="normal" font-size="112%">μ</tspan>g/mL</text>
<line x1="633" y1="1822.7" x2="671.5" y2="1822.7" stroke-width="4.8" stroke="#000" stroke-linecap="round"/>
<polygon points="652.3,1831.1 660.17,1816.92 644.42,1816.92" fill="#000"/>
<text x="695.6" y="1831.5" font-size="29" font-weight="bold">4E7.D10</text>
<line x1="633" y1="1861.1" x2="671.5" y2="1861.1" stroke-width="4.8" stroke="#000" stroke-linecap="round"/>
<polygon points="652.3,1852.7 659.12,1861.1 652.3,1869.5 645.47,1861.1" fill="#000"/>
<text x="695.6" y="1869.9" font-size="29" font-weight="bold">7F1.D8</text>
<line x1="633" y1="1899.6" x2="671.5" y2="1899.6" stroke-width="4.8" stroke="#000" stroke-linecap="round"/>
<circle cx="652.3" cy="1899.6" r="5.88" fill="none" stroke="#000" stroke-width="2.8"/>
<text x="695.6" y="1908.4" font-size="29" font-weight="bold">8F7.E1</text>
<line x1="633" y1="1941.3" x2="671.5" y2="1941.3" stroke-width="4.8" stroke="#8b4513" stroke-linecap="round"/>
<rect x="645.37" y="1934.37" width="13.86" height="13.86" fill="none" stroke="#8b4513" stroke-width="3.2"/>
<text x="695.6" y="1950.1" font-size="29" font-weight="bold" textLength="269.3" lengthAdjust="spacingAndGlyphs">9G2.D6, 2.01 <tspan font-family="'Liberation Serif','DejaVu Serif',serif" font-weight="normal" font-size="112%">μ</tspan>g/mL</text>
<line x1="633" y1="1979.2" x2="671.5" y2="1979.2" stroke-width="4.8" stroke="#000" stroke-linecap="round"/>
<polygon points="652.3,1972.85 658.91,1985.03 645.68,1985.03" fill="#fff" stroke="#000" stroke-width="2.6" stroke-linejoin="miter"/>
<text x="695.6" y="1988" font-size="29" font-weight="bold">Isotype mAb</text>
<text x="1019" y="1560" font-size="58" font-weight="bold">e</text>
<text x="1334.6" y="1575.8" font-size="33.4" font-weight="bold" text-anchor="middle" textLength="184.6" lengthAdjust="spacingAndGlyphs">Calf Muscle</text>
<rect x="1110.5" y="1768.74" width="33.8" height="293.26" fill="none" stroke="#000" stroke-width="3.6"/>
<rect x="1161.7" y="1867.09" width="33.8" height="194.91" fill="none" stroke="#f40d0d" stroke-width="3.6"/>
<rect x="1212.6" y="1896.46" width="33.8" height="165.54" fill="none" stroke="#000" stroke-width="3.6"/>
<rect x="1264.2" y="1968.55" width="33.8" height="93.45" fill="none" stroke="#f40d0d" stroke-width="3.6"/>
<rect x="1366.7" y="1782.54" width="33.8" height="279.46" fill="none" stroke="#000" stroke-width="3.6"/>
<rect x="1418" y="1812.8" width="33.8" height="249.2" fill="none" stroke="#f40d0d" stroke-width="3.6"/>
<rect x="1469.7" y="1917.82" width="33.8" height="144.18" fill="none" stroke="#000" stroke-width="3.6"/>
<rect x="1521.4" y="1899.13" width="33.8" height="162.87" fill="none" stroke="#f40d0d" stroke-width="3.6"/>
<line x1="1093" y1="1977" x2="1575.5" y2="1977" stroke="#000" stroke-width="3.6" stroke-dasharray="13.5 5.2"/>
<polygon points="1127.59,1670.14 1134.69,1683.54 1120.49,1683.54" fill="#000"/>
<polygon points="1117.7,1736.08 1124.8,1749.48 1110.6,1749.48" fill="#000"/>
<polygon points="1145.07,1744.32 1152.17,1757.72 1137.97,1757.72" fill="#000"/>
<polygon points="1135.18,1752.56 1142.28,1765.96 1128.08,1765.96" fill="#000"/>
<polygon points="1117.7,1772.34 1124.8,1785.74 1110.6,1785.74" fill="#000"/>
<polygon points="1127.59,1807.95 1134.69,1821.35 1120.49,1821.35" fill="#000"/>
<polygon points="1118.69,1886.09 1125.79,1899.49 1111.59,1899.49" fill="#000"/>
<polygon points="1136.17,1884.44 1143.27,1897.84 1129.07,1897.84" fill="#000"/>
<polygon points="1236.39,1861.36 1243.49,1874.76 1229.29,1874.76" fill="#000"/>
<polygon points="1220.24,1877.85 1227.34,1891.25 1213.14,1891.25" fill="#000"/>
<polygon points="1229.8,1879.5 1236.9,1892.9 1222.7,1892.9" fill="#000"/>
<polygon points="1237.38,1892.69 1244.48,1906.09 1230.28,1906.09" fill="#000"/>
<polygon points="1229.8,1905.87 1236.9,1919.27 1222.7,1919.27" fill="#000"/>
<polygon points="1229.8,1930.6 1236.9,1944 1222.7,1944" fill="#000"/>
<polygon points="1229.8,1971.81 1236.9,1985.21 1222.7,1985.21" fill="#000"/>
<polygon points="1375.86,1727.84 1382.96,1741.24 1368.76,1741.24" fill="#000"/>
<polygon points="1390.69,1726.85 1397.79,1740.25 1383.59,1740.25" fill="#000"/>
<polygon points="1383.44,1732.78 1390.54,1746.18 1376.34,1746.18" fill="#000"/>
<polygon points="1375.86,1774.98 1382.96,1788.38 1368.76,1788.38" fill="#000"/>
<polygon points="1390.69,1774.98 1397.79,1788.38 1383.59,1788.38" fill="#000"/>
<polygon points="1383.44,1778.94 1390.54,1792.34 1376.34,1792.34" fill="#000"/>
<polygon points="1383.44,1858.07 1390.54,1871.47 1376.34,1871.47" fill="#000"/>
<polygon points="1383.44,1952.03 1390.54,1965.43 1376.34,1965.43" fill="#000"/>
<polygon points="1494.55,1863.01 1501.65,1876.41 1487.45,1876.41" fill="#000"/>
<polygon points="1477.41,1879.5 1484.51,1892.9 1470.31,1892.9" fill="#000"/>
<polygon points="1493.56,1892.69 1500.66,1906.09 1486.46,1906.09" fill="#000"/>
<polygon points="1478.07,1904.22 1485.16,1917.62 1470.97,1917.62" fill="#000"/>
<polygon points="1486.31,1915.76 1493.41,1929.16 1479.21,1929.16" fill="#000"/>
<polygon points="1478.07,1960.27 1485.16,1973.67 1470.97,1973.67" fill="#000"/>
<polygon points="1484.66,1970.16 1491.76,1983.57 1477.56,1983.57" fill="#000"/>
<polygon points="1493.56,1969.51 1500.66,1982.91 1486.46,1982.91" fill="#000"/>
<rect x="1171.6" y="1750.73" width="14.2" height="14.2" fill="#f40d0d"/>
<rect x="1171.6" y="1829.19" width="14.2" height="14.2" fill="#f40d0d"/>
<rect x="1176.54" y="1853.26" width="14.2" height="14.2" fill="#f40d0d"/>
<rect x="1165.99" y="1858.21" width="14.2" height="14.2" fill="#f40d0d"/>
<rect x="1172.59" y="1862.82" width="14.2" height="14.2" fill="#f40d0d"/>
<rect x="1177.53" y="1858.87" width="14.2" height="14.2" fill="#f40d0d"/>
<rect x="1171.6" y="1893.49" width="14.2" height="14.2" fill="#f40d0d"/>
<rect x="1267.21" y="1923.16" width="14.2" height="14.2" fill="#f40d0d"/>
<rect x="1281.39" y="1917.22" width="14.2" height="14.2" fill="#f40d0d"/>
<rect x="1273.8" y="1926.46" width="14.2" height="14.2" fill="#f40d0d"/>
<rect x="1268.2" y="1951.18" width="14.2" height="14.2" fill="#f40d0d"/>
<rect x="1269.19" y="1969.32" width="14.2" height="14.2" fill="#f40d0d"/>
<rect x="1279.74" y="1969.32" width="14.2" height="14.2" fill="#f40d0d"/>
<rect x="1428.1" y="1724.68" width="14.2" height="14.2" fill="#f40d0d"/>
<rect x="1419.2" y="1746.77" width="14.2" height="14.2" fill="#f40d0d"/>
<rect x="1436.35" y="1745.12" width="14.2" height="14.2" fill="#f40d0d"/>
<rect x="1428.1" y="1788.64" width="14.2" height="14.2" fill="#f40d0d"/>
<rect x="1418.21" y="1829.19" width="14.2" height="14.2" fill="#f40d0d"/>
<rect x="1436.35" y="1822.6" width="14.2" height="14.2" fill="#f40d0d"/>
<rect x="1428.1" y="1854.58" width="14.2" height="14.2" fill="#f40d0d"/>
<rect x="1428.1" y="1881.95" width="14.2" height="14.2" fill="#f40d0d"/>
<rect x="1530.97" y="1780.4" width="14.2" height="14.2" fill="#f40d0d"/>
<rect x="1523.72" y="1867.11" width="14.2" height="14.2" fill="#f40d0d"/>
<rect x="1536.91" y="1877" width="14.2" height="14.2" fill="#f40d0d"/>
<rect x="1522.07" y="1901.73" width="14.2" height="14.2" fill="#f40d0d"/>
<rect x="1540.2" y="1921.51" width="14.2" height="14.2" fill="#f40d0d"/>
<rect x="1540.2" y="1949.53" width="14.2" height="14.2" fill="#f40d0d"/>
<rect x="1522.07" y="1969.32" width="14.2" height="14.2" fill="#f40d0d"/>
<line x1="1093" y1="1615" x2="1093" y2="2064.5" stroke-width="4.8" stroke="#000"/>
<line x1="1078.5" y1="2062" x2="1575.5" y2="2062" stroke-width="5" stroke="#000"/>
<text x="1079.5" y="2071.9" font-size="28" font-weight="bold" text-anchor="end">2</text>
<line x1="1078.5" y1="1973" x2="1093" y2="1973" stroke-width="4.6" stroke="#000"/>
<text x="1079.5" y="1982.9" font-size="28" font-weight="bold" text-anchor="end">3</text>
<line x1="1078.5" y1="1884" x2="1093" y2="1884" stroke-width="4.6" stroke="#000"/>
<text x="1079.5" y="1893.9" font-size="28" font-weight="bold" text-anchor="end">4</text>
<line x1="1078.5" y1="1795" x2="1093" y2="1795" stroke-width="4.6" stroke="#000"/>
<text x="1079.5" y="1804.9" font-size="28" font-weight="bold" text-anchor="end">5</text>
<line x1="1078.5" y1="1706" x2="1093" y2="1706" stroke-width="4.6" stroke="#000"/>
<text x="1079.5" y="1715.9" font-size="28" font-weight="bold" text-anchor="end">6</text>
<line x1="1078.5" y1="1617" x2="1093" y2="1617" stroke-width="4.6" stroke="#000"/>
<text x="1079.5" y="1626.9" font-size="28" font-weight="bold" text-anchor="end">7</text>
<line x1="1127.4" y1="2062" x2="1127.4" y2="2077" stroke-width="4.8" stroke="#000"/>
<line x1="1178.6" y1="2062" x2="1178.6" y2="2077" stroke-width="4.8" stroke="#000"/>
<line x1="1229.5" y1="2062" x2="1229.5" y2="2077" stroke-width="4.8" stroke="#000"/>
<line x1="1281.1" y1="2062" x2="1281.1" y2="2077" stroke-width="4.8" stroke="#000"/>
<line x1="1383.6" y1="2062" x2="1383.6" y2="2077" stroke-width="4.8" stroke="#000"/>
<line x1="1434.9" y1="2062" x2="1434.9" y2="2077" stroke-width="4.8" stroke="#000"/>
<line x1="1486.6" y1="2062" x2="1486.6" y2="2077" stroke-width="4.8" stroke="#000"/>
<line x1="1538.3" y1="2062" x2="1538.3" y2="2077" stroke-width="4.8" stroke="#000"/>
<line x1="1332.3" y1="2062" x2="1332.3" y2="2077" stroke-width="4.8" stroke="#000"/>
<line x1="1118" y1="2083.7" x2="1188" y2="2083.7" stroke-width="3.8" stroke="#000" stroke-linecap="round"/>
<line x1="1220" y1="2083.7" x2="1289.5" y2="2083.7" stroke-width="3.8" stroke="#000" stroke-linecap="round"/>
<line x1="1374" y1="2083.7" x2="1443.4" y2="2083.7" stroke-width="3.8" stroke="#000" stroke-linecap="round"/>
<line x1="1477" y1="2083.7" x2="1546.3" y2="2083.7" stroke-width="3.8" stroke="#000" stroke-linecap="round"/>
<text x="1152" y="2113.5" font-size="28.2" font-weight="bold" text-anchor="middle">Ipsilat</text>
<text x="1254.4" y="2113.5" font-size="28.2" font-weight="bold" text-anchor="middle">Contra</text>
<text x="1406.8" y="2113.5" font-size="28.2" font-weight="bold" text-anchor="middle">Ipsilat</text>
<text x="1515.6" y="2113.5" font-size="28.2" font-weight="bold" text-anchor="middle">Contra</text>
<line x1="1104" y1="2125.2" x2="1305" y2="2125.2" stroke-width="3.8" stroke="#000" stroke-linecap="round"/>
<line x1="1364.5" y1="2125.2" x2="1565.4" y2="2125.2" stroke-width="3.8" stroke="#000" stroke-linecap="round"/>
<text x="1201" y="2155.3" font-size="28.2" font-weight="bold" text-anchor="middle">+ 8 h</text>
<text x="1461.6" y="2155.3" font-size="28.2" font-weight="bold" text-anchor="middle">+ 24 h</text>
<text transform="translate(1046,1841) rotate(-90)" font-size="29.5" font-weight="bold" text-anchor="middle" textLength="237.5" lengthAdjust="spacingAndGlyphs">log<tspan font-size="21.5" dy="7.5">10</tspan><tspan dy="-7.5">FFU/g tissue</tspan></text>
<line x1="1119.3" y1="1656" x2="1183.6" y2="1656" stroke-width="3.6" stroke="#000"/>
<line x1="1119.3" y1="1647.8" x2="1119.3" y2="1664.2" stroke-width="3.5" stroke="#000" stroke-linecap="round"/>
<line x1="1183.6" y1="1647.8" x2="1183.6" y2="1664.2" stroke-width="3.5" stroke="#000" stroke-linecap="round"/>
<text x="1151.45" y="1641.8" font-size="28" font-weight="bold" text-anchor="middle">n.s.</text>
<line x1="1217" y1="1842.9" x2="1285.2" y2="1842.9" stroke-width="3.6" stroke="#000"/>
<line x1="1217" y1="1834.7" x2="1217" y2="1851.1" stroke-width="3.5" stroke="#000" stroke-linecap="round"/>
<line x1="1285.2" y1="1834.7" x2="1285.2" y2="1851.1" stroke-width="3.5" stroke="#000" stroke-linecap="round"/>
<text x="1251.1" y="1841" font-size="30" font-weight="bold" text-anchor="middle">*</text>
<line x1="1369.3" y1="1697.8" x2="1433.5" y2="1697.8" stroke-width="3.6" stroke="#000"/>
<line x1="1369.3" y1="1689.6" x2="1369.3" y2="1706" stroke-width="3.5" stroke="#000" stroke-linecap="round"/>
<line x1="1433.5" y1="1689.6" x2="1433.5" y2="1706" stroke-width="3.5" stroke="#000" stroke-linecap="round"/>
<text x="1401.4" y="1683" font-size="28" font-weight="bold" text-anchor="middle">n.s.</text>
<line x1="1478" y1="1753.9" x2="1542.4" y2="1753.9" stroke-width="3.6" stroke="#000"/>
<line x1="1478" y1="1745.7" x2="1478" y2="1762.1" stroke-width="3.5" stroke="#000" stroke-linecap="round"/>
<line x1="1542.4" y1="1745.7" x2="1542.4" y2="1762.1" stroke-width="3.5" stroke="#000" stroke-linecap="round"/>
<text x="1510.2" y="1740" font-size="28" font-weight="bold" text-anchor="middle">n.s.</text>
<polygon points="1217.6,2188.6 1224.7,2202 1210.5,2202" fill="#000"/>
<text x="1258" y="2203" font-size="28.2" font-weight="bold">Isotype</text>
<rect x="1210.5" y="2231.6" width="14.2" height="14.2" fill="#f40d0d"/>
<text x="1258" y="2247.6" font-size="28.2" font-weight="bold" textLength="237.5" lengthAdjust="spacingAndGlyphs">1G11.E6 + 7F1.D8</text>
<text x="1823.8" y="1574.3" font-size="33.4" font-weight="bold" text-anchor="middle" textLength="213" lengthAdjust="spacingAndGlyphs">Foot swelling</text>
<rect x="1734.7" y="1821.18" width="33.6" height="242.02" fill="none" stroke="#000" stroke-width="3.6"/>
<rect x="1784.9" y="1901.73" width="33.6" height="161.47" fill="none" stroke="#f40d0d" stroke-width="3.6"/>
<rect x="1885" y="1784.8" width="33.6" height="278.4" fill="none" stroke="#000" stroke-width="3.6"/>
<rect x="1934.9" y="1821.92" width="33.6" height="241.28" fill="none" stroke="#f40d0d" stroke-width="3.6"/>
<line x1="1725.6" y1="1989.5" x2="1986" y2="1989.5" stroke="#000" stroke-width="3.7" stroke-linecap="round" stroke-dasharray="0.1 7.2"/>
<polygon points="1752.26,1717.82 1759.36,1731.22 1745.16,1731.22" fill="#000"/>
<polygon points="1759.68,1795.04 1766.78,1808.44 1752.59,1808.44" fill="#000"/>
<polygon points="1735.03,1806.33 1742.13,1819.73 1727.93,1819.73" fill="#000"/>
<polygon points="1742.76,1812.27 1749.86,1825.67 1735.66,1825.67" fill="#000"/>
<polygon points="1760.58,1829.79 1767.68,1843.19 1753.48,1843.19" fill="#000"/>
<polygon points="1744.24,1845.53 1751.34,1858.93 1737.14,1858.93" fill="#000"/>
<polygon points="1759.09,1852.95 1766.19,1866.36 1751.99,1866.36" fill="#000"/>
<polygon points="1751.67,1857.41 1758.77,1870.81 1744.57,1870.81" fill="#000"/>
<polygon points="1902.24,1667.92 1909.34,1681.32 1895.14,1681.32" fill="#000"/>
<polygon points="1902.24,1692.57 1909.34,1705.97 1895.14,1705.97" fill="#000"/>
<polygon points="1902.24,1729.7 1909.34,1743.1 1895.14,1743.1" fill="#000"/>
<polygon points="1910.26,1771.28 1917.36,1784.68 1903.16,1784.68" fill="#000"/>
<polygon points="1893.34,1780.19 1900.43,1793.59 1886.24,1793.59" fill="#000"/>
<polygon points="1893.34,1812.86 1900.43,1826.26 1886.24,1826.26" fill="#000"/>
<polygon points="1910.26,1822.36 1917.36,1835.76 1903.16,1835.76" fill="#000"/>
<polygon points="1902.24,1950.96 1909.34,1964.37 1895.14,1964.37" fill="#000"/>
<rect x="1786.15" y="1822.57" width="14.2" height="14.2" fill="#f40d0d"/>
<rect x="1803.08" y="1818.12" width="14.2" height="14.2" fill="#f40d0d"/>
<rect x="1794.16" y="1896.82" width="14.2" height="14.2" fill="#f40d0d"/>
<rect x="1801.59" y="1896.82" width="14.2" height="14.2" fill="#f40d0d"/>
<rect x="1786.74" y="1900.38" width="14.2" height="14.2" fill="#f40d0d"/>
<rect x="1794.16" y="1906.62" width="14.2" height="14.2" fill="#f40d0d"/>
<rect x="1788.23" y="1931.87" width="14.2" height="14.2" fill="#f40d0d"/>
<rect x="1794.16" y="1943.75" width="14.2" height="14.2" fill="#f40d0d"/>
<rect x="1801.59" y="1942.86" width="14.2" height="14.2" fill="#f40d0d"/>
<rect x="1944.74" y="1662.78" width="14.2" height="14.2" fill="#f40d0d"/>
<rect x="1944.74" y="1788.41" width="14.2" height="14.2" fill="#f40d0d"/>
<rect x="1946.53" y="1812.18" width="14.2" height="14.2" fill="#f40d0d"/>
<rect x="1933.76" y="1821.09" width="14.2" height="14.2" fill="#f40d0d"/>
<rect x="1956.03" y="1821.09" width="14.2" height="14.2" fill="#f40d0d"/>
<rect x="1939.7" y="1831.48" width="14.2" height="14.2" fill="#f40d0d"/>
<rect x="1948.61" y="1837.42" width="14.2" height="14.2" fill="#f40d0d"/>
<rect x="1944.74" y="1944.34" width="14.2" height="14.2" fill="#f40d0d"/>
<line x1="1718.6" y1="1615.8" x2="1718.6" y2="2065.7" stroke-width="4.8" stroke="#000"/>
<line x1="1704.1" y1="2063.2" x2="1986" y2="2063.2" stroke-width="5" stroke="#000"/>
<text x="1704" y="2073.1" font-size="28" font-weight="bold" text-anchor="end">80</text>
<line x1="1704.1" y1="1988.96" x2="1718.6" y2="1988.96" stroke-width="4.6" stroke="#000"/>
<text x="1704" y="1998.86" font-size="28" font-weight="bold" text-anchor="end">100</text>
<line x1="1704.1" y1="1914.72" x2="1718.6" y2="1914.72" stroke-width="4.6" stroke="#000"/>
<text x="1704" y="1924.62" font-size="28" font-weight="bold" text-anchor="end">120</text>
<line x1="1704.1" y1="1840.48" x2="1718.6" y2="1840.48" stroke-width="4.6" stroke="#000"/>
<text x="1704" y="1850.38" font-size="28" font-weight="bold" text-anchor="end">140</text>
<line x1="1704.1" y1="1766.24" x2="1718.6" y2="1766.24" stroke-width="4.6" stroke="#000"/>
<text x="1704" y="1776.14" font-size="28" font-weight="bold" text-anchor="end">160</text>
<line x1="1704.1" y1="1692" x2="1718.6" y2="1692" stroke-width="4.6" stroke="#000"/>
<text x="1704" y="1701.9" font-size="28" font-weight="bold" text-anchor="end">180</text>
<line x1="1704.1" y1="1617.76" x2="1718.6" y2="1617.76" stroke-width="4.6" stroke="#000"/>
<text x="1704" y="1627.66" font-size="28" font-weight="bold" text-anchor="end">200</text>
<line x1="1751.5" y1="2063.2" x2="1751.5" y2="2078.2" stroke-width="4.8" stroke="#000"/>
<line x1="1801.6" y1="2063.2" x2="1801.6" y2="2078.2" stroke-width="4.8" stroke="#000"/>
<line x1="1851.9" y1="2063.2" x2="1851.9" y2="2078.2" stroke-width="4.8" stroke="#000"/>
<line x1="1901.7" y1="2063.2" x2="1901.7" y2="2078.2" stroke-width="4.8" stroke="#000"/>
<line x1="1951.8" y1="2063.2" x2="1951.8" y2="2078.2" stroke-width="4.8" stroke="#000"/>
<line x1="1742" y1="2082.6" x2="1812" y2="2082.6" stroke-width="3.8" stroke="#000" stroke-linecap="round"/>
<line x1="1892" y1="2082.6" x2="1962.3" y2="2082.6" stroke-width="3.8" stroke="#000" stroke-linecap="round"/>
<text x="1776.2" y="2110.6" font-size="28.2" font-weight="bold" text-anchor="middle">+ 8 h</text>
<text x="1931" y="2110.6" font-size="28.2" font-weight="bold" text-anchor="middle">+ 24 h</text>
<text transform="translate(1642.4,1845) rotate(-90)" font-size="29.2" font-weight="bold" text-anchor="middle" textLength="378" lengthAdjust="spacingAndGlyphs">% initial joint measurement</text>
<line x1="1740.4" y1="1694.5" x2="1801.3" y2="1694.5" stroke-width="3.6" stroke="#000"/>
<line x1="1740.4" y1="1686.3" x2="1740.4" y2="1702.7" stroke-width="3.5" stroke="#000" stroke-linecap="round"/>
<line x1="1801.3" y1="1686.3" x2="1801.3" y2="1702.7" stroke-width="3.5" stroke="#000" stroke-linecap="round"/>
<text x="1770.85" y="1692.5" font-size="30" font-weight="bold" text-anchor="middle">*</text>
<line x1="1894" y1="1639.6" x2="1955.7" y2="1639.6" stroke-width="3.6" stroke="#000"/>
<line x1="1894" y1="1631.4" x2="1894" y2="1647.8" stroke-width="3.5" stroke="#000" stroke-linecap="round"/>
<line x1="1955.7" y1="1631.4" x2="1955.7" y2="1647.8" stroke-width="3.5" stroke="#000" stroke-linecap="round"/>
<text x="1924.85" y="1629.8" font-size="28" font-weight="bold" text-anchor="middle">n.s.</text>
<polygon points="1737.5,2146.23 1744.95,2160.3 1730.05,2160.3" fill="#000"/>
<text x="1778.7" y="2161.7" font-size="28.2" font-weight="bold">isotype</text>
<rect x="1730.26" y="2189.76" width="14.48" height="14.48" fill="#f40d0d"/>
<text x="1778.7" y="2206.4" font-size="28.2" font-weight="bold" textLength="237.7" lengthAdjust="spacingAndGlyphs">1G11.E6 + 7F1.D8</text>
</svg>
</body>
</html>
